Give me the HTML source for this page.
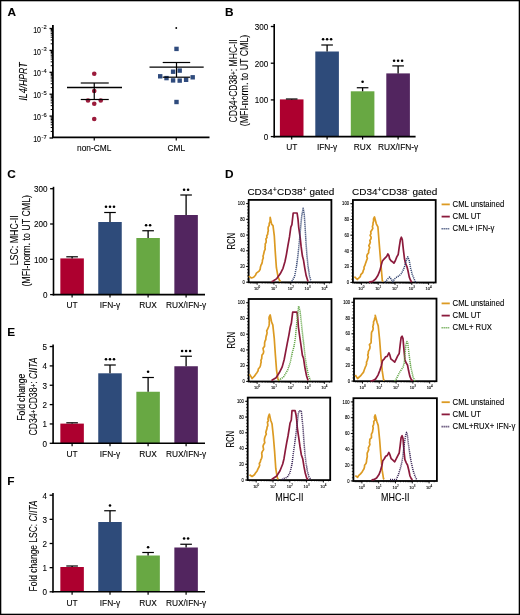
<!DOCTYPE html>
<html><head><meta charset="utf-8"><style>
html,body{margin:0;padding:0;background:#fff;}
svg{display:block;font-family:"Liberation Sans", sans-serif;will-change:transform;}
text{stroke:#000;stroke-width:0.1px;}

</style></head><body>
<svg width="520" height="615" viewBox="0 0 520 615">
<rect x="0" y="0" width="520" height="615" fill="#fff"/>
<text transform="translate(7.50 15.60)" font-size="11.8" font-weight="bold" >A</text>
<text transform="translate(225.00 15.60)" font-size="11.8" font-weight="bold" >B</text>
<text transform="translate(7.30 178.30)" font-size="11.8" font-weight="bold" >C</text>
<text transform="translate(225.00 178.30)" font-size="11.8" font-weight="bold" >D</text>
<text transform="translate(7.20 336.10)" font-size="11.8" font-weight="bold" >E</text>
<text transform="translate(7.20 484.60)" font-size="11.8" font-weight="bold" >F</text>
<line x1="52.90" y1="25.00" x2="52.90" y2="138.00" stroke="#000" stroke-width="1.8" />
<line x1="52.00" y1="137.40" x2="209.50" y2="137.40" stroke="#000" stroke-width="1.6" />
<line x1="49.50" y1="28.50" x2="52.90" y2="28.50" stroke="#000" stroke-width="1.3" />
<text transform="translate(46.70 29.00)" font-size="5.8" text-anchor="end" >-2</text>
<text transform="translate(41.00 32.60) scale(0.82 1)" font-size="8.6" text-anchor="end" >10</text>
<line x1="49.50" y1="50.40" x2="52.90" y2="50.40" stroke="#000" stroke-width="1.3" />
<text transform="translate(46.70 50.90)" font-size="5.8" text-anchor="end" >-3</text>
<text transform="translate(41.00 54.50) scale(0.82 1)" font-size="8.6" text-anchor="end" >10</text>
<line x1="49.50" y1="72.30" x2="52.90" y2="72.30" stroke="#000" stroke-width="1.3" />
<text transform="translate(46.70 72.80)" font-size="5.8" text-anchor="end" >-4</text>
<text transform="translate(41.00 76.40) scale(0.82 1)" font-size="8.6" text-anchor="end" >10</text>
<line x1="49.50" y1="94.20" x2="52.90" y2="94.20" stroke="#000" stroke-width="1.3" />
<text transform="translate(46.70 94.70)" font-size="5.8" text-anchor="end" >-5</text>
<text transform="translate(41.00 98.30) scale(0.82 1)" font-size="8.6" text-anchor="end" >10</text>
<line x1="49.50" y1="116.10" x2="52.90" y2="116.10" stroke="#000" stroke-width="1.3" />
<text transform="translate(46.70 116.60)" font-size="5.8" text-anchor="end" >-6</text>
<text transform="translate(41.00 120.20) scale(0.82 1)" font-size="8.6" text-anchor="end" >10</text>
<line x1="49.50" y1="138.00" x2="52.90" y2="138.00" stroke="#000" stroke-width="1.3" />
<text transform="translate(46.70 138.50)" font-size="5.8" text-anchor="end" >-7</text>
<text transform="translate(41.00 142.10) scale(0.82 1)" font-size="8.6" text-anchor="end" >10</text>
<line x1="50.70" y1="131.41" x2="52.90" y2="131.41" stroke="#000" stroke-width="1.0" />
<line x1="50.70" y1="127.55" x2="52.90" y2="127.55" stroke="#000" stroke-width="1.0" />
<line x1="50.70" y1="124.81" x2="52.90" y2="124.81" stroke="#000" stroke-width="1.0" />
<line x1="50.70" y1="122.69" x2="52.90" y2="122.69" stroke="#000" stroke-width="1.0" />
<line x1="50.70" y1="120.96" x2="52.90" y2="120.96" stroke="#000" stroke-width="1.0" />
<line x1="50.70" y1="119.49" x2="52.90" y2="119.49" stroke="#000" stroke-width="1.0" />
<line x1="50.70" y1="118.22" x2="52.90" y2="118.22" stroke="#000" stroke-width="1.0" />
<line x1="50.70" y1="117.10" x2="52.90" y2="117.10" stroke="#000" stroke-width="1.0" />
<line x1="50.70" y1="109.51" x2="52.90" y2="109.51" stroke="#000" stroke-width="1.0" />
<line x1="50.70" y1="105.65" x2="52.90" y2="105.65" stroke="#000" stroke-width="1.0" />
<line x1="50.70" y1="102.91" x2="52.90" y2="102.91" stroke="#000" stroke-width="1.0" />
<line x1="50.70" y1="100.79" x2="52.90" y2="100.79" stroke="#000" stroke-width="1.0" />
<line x1="50.70" y1="99.06" x2="52.90" y2="99.06" stroke="#000" stroke-width="1.0" />
<line x1="50.70" y1="97.59" x2="52.90" y2="97.59" stroke="#000" stroke-width="1.0" />
<line x1="50.70" y1="96.32" x2="52.90" y2="96.32" stroke="#000" stroke-width="1.0" />
<line x1="50.70" y1="95.20" x2="52.90" y2="95.20" stroke="#000" stroke-width="1.0" />
<line x1="50.70" y1="87.61" x2="52.90" y2="87.61" stroke="#000" stroke-width="1.0" />
<line x1="50.70" y1="83.75" x2="52.90" y2="83.75" stroke="#000" stroke-width="1.0" />
<line x1="50.70" y1="81.01" x2="52.90" y2="81.01" stroke="#000" stroke-width="1.0" />
<line x1="50.70" y1="78.89" x2="52.90" y2="78.89" stroke="#000" stroke-width="1.0" />
<line x1="50.70" y1="77.16" x2="52.90" y2="77.16" stroke="#000" stroke-width="1.0" />
<line x1="50.70" y1="75.69" x2="52.90" y2="75.69" stroke="#000" stroke-width="1.0" />
<line x1="50.70" y1="74.42" x2="52.90" y2="74.42" stroke="#000" stroke-width="1.0" />
<line x1="50.70" y1="73.30" x2="52.90" y2="73.30" stroke="#000" stroke-width="1.0" />
<line x1="50.70" y1="65.71" x2="52.90" y2="65.71" stroke="#000" stroke-width="1.0" />
<line x1="50.70" y1="61.85" x2="52.90" y2="61.85" stroke="#000" stroke-width="1.0" />
<line x1="50.70" y1="59.11" x2="52.90" y2="59.11" stroke="#000" stroke-width="1.0" />
<line x1="50.70" y1="56.99" x2="52.90" y2="56.99" stroke="#000" stroke-width="1.0" />
<line x1="50.70" y1="55.26" x2="52.90" y2="55.26" stroke="#000" stroke-width="1.0" />
<line x1="50.70" y1="53.79" x2="52.90" y2="53.79" stroke="#000" stroke-width="1.0" />
<line x1="50.70" y1="52.52" x2="52.90" y2="52.52" stroke="#000" stroke-width="1.0" />
<line x1="50.70" y1="51.40" x2="52.90" y2="51.40" stroke="#000" stroke-width="1.0" />
<line x1="50.70" y1="43.81" x2="52.90" y2="43.81" stroke="#000" stroke-width="1.0" />
<line x1="50.70" y1="39.95" x2="52.90" y2="39.95" stroke="#000" stroke-width="1.0" />
<line x1="50.70" y1="37.21" x2="52.90" y2="37.21" stroke="#000" stroke-width="1.0" />
<line x1="50.70" y1="35.09" x2="52.90" y2="35.09" stroke="#000" stroke-width="1.0" />
<line x1="50.70" y1="33.36" x2="52.90" y2="33.36" stroke="#000" stroke-width="1.0" />
<line x1="50.70" y1="31.89" x2="52.90" y2="31.89" stroke="#000" stroke-width="1.0" />
<line x1="50.70" y1="30.62" x2="52.90" y2="30.62" stroke="#000" stroke-width="1.0" />
<line x1="50.70" y1="29.50" x2="52.90" y2="29.50" stroke="#000" stroke-width="1.0" />
<line x1="94.25" y1="137.40" x2="94.25" y2="140.50" stroke="#000" stroke-width="1.2" />
<text transform="translate(94.25 150.90) scale(0.89 1)" font-size="9.4" text-anchor="middle" >non-CML</text>
<line x1="176.25" y1="137.40" x2="176.25" y2="140.50" stroke="#000" stroke-width="1.2" />
<text transform="translate(176.25 150.90) scale(0.89 1)" font-size="9.4" text-anchor="middle" >CML</text>
<text transform="translate(26.60 81.50) rotate(-90) scale(0.84 1)" font-size="10.4" text-anchor="middle" font-style="italic" >IL4/HPRT</text>
<circle cx="94.25" cy="73.75" r="2.3" fill="#9b1b3b"/>
<circle cx="94.25" cy="91" r="2.3" fill="#9b1b3b"/>
<circle cx="88" cy="100.5" r="2.3" fill="#9b1b3b"/>
<circle cx="100.75" cy="100.5" r="2.3" fill="#9b1b3b"/>
<circle cx="94.25" cy="103.75" r="2.3" fill="#9b1b3b"/>
<circle cx="94.25" cy="119" r="2.3" fill="#9b1b3b"/>
<line x1="67.00" y1="87.50" x2="122.00" y2="87.50" stroke="#000" stroke-width="1.4" />
<line x1="80.75" y1="83.00" x2="108.75" y2="83.00" stroke="#000" stroke-width="1.2" />
<line x1="80.75" y1="99.50" x2="108.75" y2="99.50" stroke="#000" stroke-width="1.2" />
<line x1="94.25" y1="83.00" x2="94.25" y2="99.50" stroke="#000" stroke-width="1.2" />
<rect x="174.30" y="46.70" width="4.40" height="4.40" fill="#2f4b7d" />
<rect x="170.90" y="69.50" width="4.40" height="4.40" fill="#2f4b7d" />
<rect x="177.50" y="68.40" width="4.40" height="4.40" fill="#2f4b7d" />
<rect x="158.00" y="74.10" width="4.40" height="4.40" fill="#2f4b7d" />
<rect x="164.30" y="75.90" width="4.40" height="4.40" fill="#2f4b7d" />
<rect x="170.90" y="78.20" width="4.40" height="4.40" fill="#2f4b7d" />
<rect x="177.50" y="78.40" width="4.40" height="4.40" fill="#2f4b7d" />
<rect x="183.90" y="77.60" width="4.40" height="4.40" fill="#2f4b7d" />
<rect x="190.50" y="75.10" width="4.40" height="4.40" fill="#2f4b7d" />
<rect x="174.30" y="99.80" width="4.40" height="4.40" fill="#2f4b7d" />
<line x1="149.50" y1="67.10" x2="203.70" y2="67.10" stroke="#000" stroke-width="1.4" />
<line x1="162.70" y1="62.50" x2="190.20" y2="62.50" stroke="#000" stroke-width="1.2" />
<line x1="162.70" y1="77.20" x2="190.20" y2="77.20" stroke="#000" stroke-width="1.2" />
<line x1="176.50" y1="62.50" x2="176.50" y2="77.20" stroke="#000" stroke-width="1.2" />
<circle cx="176.25" cy="28" r="0.95"/>
<rect x="279.90" y="99.40" width="23.60" height="37.20" fill="#ad002f" />
<line x1="291.70" y1="99.40" x2="291.70" y2="99.00" stroke="#000" stroke-width="1.3" />
<line x1="285.90" y1="99.00" x2="297.50" y2="99.00" stroke="#000" stroke-width="1.2" />
<rect x="315.30" y="51.50" width="23.60" height="85.10" fill="#2e4b7a" />
<line x1="327.10" y1="51.50" x2="327.10" y2="45.00" stroke="#000" stroke-width="1.3" />
<line x1="321.30" y1="45.00" x2="332.90" y2="45.00" stroke="#000" stroke-width="1.2" />
<rect x="350.80" y="91.30" width="23.60" height="45.30" fill="#68a843" />
<line x1="362.60" y1="91.30" x2="362.60" y2="87.75" stroke="#000" stroke-width="1.3" />
<line x1="356.80" y1="87.75" x2="368.40" y2="87.75" stroke="#000" stroke-width="1.2" />
<rect x="386.30" y="73.40" width="23.60" height="63.20" fill="#52255f" />
<line x1="398.10" y1="73.40" x2="398.10" y2="65.90" stroke="#000" stroke-width="1.3" />
<line x1="392.30" y1="65.90" x2="403.90" y2="65.90" stroke="#000" stroke-width="1.2" />
<circle cx="323.10" cy="39.30" r="1.3"/>
<circle cx="327.10" cy="39.30" r="1.3"/>
<circle cx="331.10" cy="39.30" r="1.3"/>
<circle cx="362.60" cy="81.80" r="1.3"/>
<circle cx="394.10" cy="60.80" r="1.3"/>
<circle cx="398.10" cy="60.80" r="1.3"/>
<circle cx="402.10" cy="60.80" r="1.3"/>
<line x1="274.20" y1="24.00" x2="274.20" y2="137.40" stroke="#000" stroke-width="1.6" />
<line x1="273.40" y1="136.60" x2="415.60" y2="136.60" stroke="#000" stroke-width="1.6" />
<line x1="270.80" y1="136.60" x2="274.20" y2="136.60" stroke="#000" stroke-width="1.3" />
<text transform="translate(268.20 140.00) scale(0.9 1)" font-size="9.0" text-anchor="end" >0</text>
<line x1="270.80" y1="99.90" x2="274.20" y2="99.90" stroke="#000" stroke-width="1.3" />
<text transform="translate(268.20 103.30) scale(0.9 1)" font-size="9.0" text-anchor="end" >100</text>
<line x1="270.80" y1="63.20" x2="274.20" y2="63.20" stroke="#000" stroke-width="1.3" />
<text transform="translate(268.20 66.60) scale(0.9 1)" font-size="9.0" text-anchor="end" >200</text>
<line x1="270.80" y1="26.50" x2="274.20" y2="26.50" stroke="#000" stroke-width="1.3" />
<text transform="translate(268.20 29.90) scale(0.9 1)" font-size="9.0" text-anchor="end" >300</text>
<line x1="291.70" y1="136.60" x2="291.70" y2="139.60" stroke="#000" stroke-width="1.2" />
<text transform="translate(291.70 150.35) scale(0.89 1)" font-size="9.4" text-anchor="middle" >UT</text>
<line x1="327.10" y1="136.60" x2="327.10" y2="139.60" stroke="#000" stroke-width="1.2" />
<text transform="translate(327.10 150.35) scale(0.89 1)" font-size="9.4" text-anchor="middle" >IFN-&#947;</text>
<line x1="362.60" y1="136.60" x2="362.60" y2="139.60" stroke="#000" stroke-width="1.2" />
<text transform="translate(362.60 150.35) scale(0.89 1)" font-size="9.4" text-anchor="middle" >RUX</text>
<line x1="398.10" y1="136.60" x2="398.10" y2="139.60" stroke="#000" stroke-width="1.2" />
<text transform="translate(398.10 150.35) scale(0.89 1)" font-size="9.4" text-anchor="middle" >RUX/IFN-&#947;</text>
<text transform="translate(237.00 80.90) rotate(-90) scale(0.825 1)" font-size="10.4" text-anchor="middle" >CD34<tspan font-size="7.8" dy="-1.5">+</tspan><tspan dy="1.5">CD38<tspan font-size="7.8" dy="-1.5">+</tspan><tspan dy="1.5">: MHC-II</tspan></tspan></text>
<text transform="translate(248.30 80.50) rotate(-90) scale(0.85 1)" font-size="10.4" text-anchor="middle" >(MFI-norm. to UT CML)</text>
<rect x="60.35" y="258.40" width="23.50" height="36.20" fill="#ad002f" />
<line x1="72.10" y1="258.40" x2="72.10" y2="256.80" stroke="#000" stroke-width="1.3" />
<line x1="66.30" y1="256.80" x2="77.90" y2="256.80" stroke="#000" stroke-width="1.2" />
<rect x="98.25" y="222.00" width="23.50" height="72.60" fill="#2e4b7a" />
<line x1="110.00" y1="222.00" x2="110.00" y2="212.50" stroke="#000" stroke-width="1.3" />
<line x1="104.20" y1="212.50" x2="115.80" y2="212.50" stroke="#000" stroke-width="1.2" />
<rect x="136.35" y="238.00" width="23.50" height="56.60" fill="#68a843" />
<line x1="148.10" y1="238.00" x2="148.10" y2="230.75" stroke="#000" stroke-width="1.3" />
<line x1="142.30" y1="230.75" x2="153.90" y2="230.75" stroke="#000" stroke-width="1.2" />
<rect x="174.35" y="215.00" width="23.50" height="79.60" fill="#52255f" />
<line x1="186.10" y1="215.00" x2="186.10" y2="195.00" stroke="#000" stroke-width="1.3" />
<line x1="180.30" y1="195.00" x2="191.90" y2="195.00" stroke="#000" stroke-width="1.2" />
<circle cx="106.00" cy="206.80" r="1.3"/>
<circle cx="110.00" cy="206.80" r="1.3"/>
<circle cx="114.00" cy="206.80" r="1.3"/>
<circle cx="146.10" cy="225.30" r="1.3"/>
<circle cx="150.10" cy="225.30" r="1.3"/>
<circle cx="184.10" cy="189.80" r="1.3"/>
<circle cx="188.10" cy="189.80" r="1.3"/>
<line x1="53.50" y1="186.80" x2="53.50" y2="295.40" stroke="#000" stroke-width="1.6" />
<line x1="52.70" y1="294.60" x2="205.00" y2="294.60" stroke="#000" stroke-width="1.6" />
<line x1="50.10" y1="294.60" x2="53.50" y2="294.60" stroke="#000" stroke-width="1.3" />
<text transform="translate(47.50 298.00) scale(0.9 1)" font-size="9.0" text-anchor="end" >0</text>
<line x1="50.10" y1="259.30" x2="53.50" y2="259.30" stroke="#000" stroke-width="1.3" />
<text transform="translate(47.50 262.70) scale(0.9 1)" font-size="9.0" text-anchor="end" >100</text>
<line x1="50.10" y1="224.00" x2="53.50" y2="224.00" stroke="#000" stroke-width="1.3" />
<text transform="translate(47.50 227.40) scale(0.9 1)" font-size="9.0" text-anchor="end" >200</text>
<line x1="50.10" y1="188.70" x2="53.50" y2="188.70" stroke="#000" stroke-width="1.3" />
<text transform="translate(47.50 192.10) scale(0.9 1)" font-size="9.0" text-anchor="end" >300</text>
<line x1="72.10" y1="294.60" x2="72.10" y2="297.60" stroke="#000" stroke-width="1.2" />
<text transform="translate(72.10 308.30) scale(0.89 1)" font-size="9.4" text-anchor="middle" >UT</text>
<line x1="110.00" y1="294.60" x2="110.00" y2="297.60" stroke="#000" stroke-width="1.2" />
<text transform="translate(110.00 308.30) scale(0.89 1)" font-size="9.4" text-anchor="middle" >IFN-&#947;</text>
<line x1="148.10" y1="294.60" x2="148.10" y2="297.60" stroke="#000" stroke-width="1.2" />
<text transform="translate(148.10 308.30) scale(0.89 1)" font-size="9.4" text-anchor="middle" >RUX</text>
<line x1="186.10" y1="294.60" x2="186.10" y2="297.60" stroke="#000" stroke-width="1.2" />
<text transform="translate(186.10 308.30) scale(0.89 1)" font-size="9.4" text-anchor="middle" >RUX/IFN-&#947;</text>
<text transform="translate(17.80 240.30) rotate(-90) scale(0.85 1)" font-size="10.4" text-anchor="middle" >LSC: MHC-II</text>
<text transform="translate(29.50 240.80) rotate(-90) scale(0.85 1)" font-size="10.4" text-anchor="middle" >(MFI-norm. to UT CML)</text>
<rect x="60.35" y="423.60" width="23.50" height="19.70" fill="#ad002f" />
<line x1="72.10" y1="423.60" x2="72.10" y2="422.80" stroke="#000" stroke-width="1.3" />
<line x1="66.30" y1="422.80" x2="77.90" y2="422.80" stroke="#000" stroke-width="1.2" />
<rect x="98.25" y="373.30" width="23.50" height="70.00" fill="#2e4b7a" />
<line x1="110.00" y1="373.30" x2="110.00" y2="365.00" stroke="#000" stroke-width="1.3" />
<line x1="104.20" y1="365.00" x2="115.80" y2="365.00" stroke="#000" stroke-width="1.2" />
<rect x="136.35" y="391.75" width="23.50" height="51.55" fill="#68a843" />
<line x1="148.10" y1="391.75" x2="148.10" y2="377.50" stroke="#000" stroke-width="1.3" />
<line x1="142.30" y1="377.50" x2="153.90" y2="377.50" stroke="#000" stroke-width="1.2" />
<rect x="174.35" y="366.25" width="23.50" height="77.05" fill="#52255f" />
<line x1="186.10" y1="366.25" x2="186.10" y2="356.25" stroke="#000" stroke-width="1.3" />
<line x1="180.30" y1="356.25" x2="191.90" y2="356.25" stroke="#000" stroke-width="1.2" />
<circle cx="106.00" cy="359.30" r="1.3"/>
<circle cx="110.00" cy="359.30" r="1.3"/>
<circle cx="114.00" cy="359.30" r="1.3"/>
<circle cx="148.10" cy="371.80" r="1.3"/>
<circle cx="182.10" cy="351.05" r="1.3"/>
<circle cx="186.10" cy="351.05" r="1.3"/>
<circle cx="190.10" cy="351.05" r="1.3"/>
<line x1="53.10" y1="344.60" x2="53.10" y2="444.10" stroke="#000" stroke-width="1.6" />
<line x1="52.30" y1="443.30" x2="205.00" y2="443.30" stroke="#000" stroke-width="1.6" />
<line x1="49.70" y1="443.30" x2="53.10" y2="443.30" stroke="#000" stroke-width="1.3" />
<text transform="translate(47.10 446.70) scale(0.9 1)" font-size="9.0" text-anchor="end" >0</text>
<line x1="49.70" y1="423.95" x2="53.10" y2="423.95" stroke="#000" stroke-width="1.3" />
<text transform="translate(47.10 427.35) scale(0.9 1)" font-size="9.0" text-anchor="end" >1</text>
<line x1="49.70" y1="404.60" x2="53.10" y2="404.60" stroke="#000" stroke-width="1.3" />
<text transform="translate(47.10 408.00) scale(0.9 1)" font-size="9.0" text-anchor="end" >2</text>
<line x1="49.70" y1="385.25" x2="53.10" y2="385.25" stroke="#000" stroke-width="1.3" />
<text transform="translate(47.10 388.65) scale(0.9 1)" font-size="9.0" text-anchor="end" >3</text>
<line x1="49.70" y1="365.90" x2="53.10" y2="365.90" stroke="#000" stroke-width="1.3" />
<text transform="translate(47.10 369.30) scale(0.9 1)" font-size="9.0" text-anchor="end" >4</text>
<line x1="49.70" y1="346.55" x2="53.10" y2="346.55" stroke="#000" stroke-width="1.3" />
<text transform="translate(47.10 349.95) scale(0.9 1)" font-size="9.0" text-anchor="end" >5</text>
<line x1="72.10" y1="443.30" x2="72.10" y2="446.30" stroke="#000" stroke-width="1.2" />
<text transform="translate(72.10 456.80) scale(0.89 1)" font-size="9.4" text-anchor="middle" >UT</text>
<line x1="110.00" y1="443.30" x2="110.00" y2="446.30" stroke="#000" stroke-width="1.2" />
<text transform="translate(110.00 456.80) scale(0.89 1)" font-size="9.4" text-anchor="middle" >IFN-&#947;</text>
<line x1="148.10" y1="443.30" x2="148.10" y2="446.30" stroke="#000" stroke-width="1.2" />
<text transform="translate(148.10 456.80) scale(0.89 1)" font-size="9.4" text-anchor="middle" >RUX</text>
<line x1="186.10" y1="443.30" x2="186.10" y2="446.30" stroke="#000" stroke-width="1.2" />
<text transform="translate(186.10 456.80) scale(0.89 1)" font-size="9.4" text-anchor="middle" >RUX/IFN-&#947;</text>
<text transform="translate(25.10 397.20) rotate(-90) scale(0.825 1)" font-size="10.4" text-anchor="middle" >Fold change</text>
<text transform="translate(37.00 396.50) rotate(-90) scale(0.83 1)" font-size="10.4" text-anchor="middle" >CD34<tspan font-size="7.8" dy="-1.5">+</tspan><tspan dy="1.5">CD38<tspan font-size="7.8" dy="-1.5">+</tspan><tspan dy="1.5">: <tspan font-style="italic">CIITA</tspan></tspan></tspan></text>
<rect x="60.35" y="567.00" width="23.50" height="24.80" fill="#ad002f" />
<line x1="72.10" y1="567.00" x2="72.10" y2="566.00" stroke="#000" stroke-width="1.3" />
<line x1="66.30" y1="566.00" x2="77.90" y2="566.00" stroke="#000" stroke-width="1.2" />
<rect x="98.25" y="522.00" width="23.50" height="69.80" fill="#2e4b7a" />
<line x1="110.00" y1="522.00" x2="110.00" y2="510.75" stroke="#000" stroke-width="1.3" />
<line x1="104.20" y1="510.75" x2="115.80" y2="510.75" stroke="#000" stroke-width="1.2" />
<rect x="136.35" y="555.50" width="23.50" height="36.30" fill="#68a843" />
<line x1="148.10" y1="555.50" x2="148.10" y2="552.50" stroke="#000" stroke-width="1.3" />
<line x1="142.30" y1="552.50" x2="153.90" y2="552.50" stroke="#000" stroke-width="1.2" />
<rect x="174.35" y="547.50" width="23.50" height="44.30" fill="#52255f" />
<line x1="186.10" y1="547.50" x2="186.10" y2="544.25" stroke="#000" stroke-width="1.3" />
<line x1="180.30" y1="544.25" x2="191.90" y2="544.25" stroke="#000" stroke-width="1.2" />
<circle cx="110.00" cy="505.55" r="1.3"/>
<circle cx="148.10" cy="547.30" r="1.3"/>
<circle cx="184.10" cy="538.55" r="1.3"/>
<circle cx="188.10" cy="538.55" r="1.3"/>
<line x1="53.00" y1="493.00" x2="53.00" y2="592.60" stroke="#000" stroke-width="1.6" />
<line x1="52.20" y1="591.80" x2="205.00" y2="591.80" stroke="#000" stroke-width="1.6" />
<line x1="49.60" y1="591.80" x2="53.00" y2="591.80" stroke="#000" stroke-width="1.3" />
<text transform="translate(47.00 595.20) scale(0.9 1)" font-size="9.0" text-anchor="end" >0</text>
<line x1="49.60" y1="567.65" x2="53.00" y2="567.65" stroke="#000" stroke-width="1.3" />
<text transform="translate(47.00 571.05) scale(0.9 1)" font-size="9.0" text-anchor="end" >1</text>
<line x1="49.60" y1="543.50" x2="53.00" y2="543.50" stroke="#000" stroke-width="1.3" />
<text transform="translate(47.00 546.90) scale(0.9 1)" font-size="9.0" text-anchor="end" >2</text>
<line x1="49.60" y1="519.35" x2="53.00" y2="519.35" stroke="#000" stroke-width="1.3" />
<text transform="translate(47.00 522.75) scale(0.9 1)" font-size="9.0" text-anchor="end" >3</text>
<line x1="49.60" y1="495.20" x2="53.00" y2="495.20" stroke="#000" stroke-width="1.3" />
<text transform="translate(47.00 498.60) scale(0.9 1)" font-size="9.0" text-anchor="end" >4</text>
<line x1="72.10" y1="591.80" x2="72.10" y2="594.80" stroke="#000" stroke-width="1.2" />
<text transform="translate(72.10 605.55) scale(0.89 1)" font-size="9.4" text-anchor="middle" >UT</text>
<line x1="110.00" y1="591.80" x2="110.00" y2="594.80" stroke="#000" stroke-width="1.2" />
<text transform="translate(110.00 605.55) scale(0.89 1)" font-size="9.4" text-anchor="middle" >IFN-&#947;</text>
<line x1="148.10" y1="591.80" x2="148.10" y2="594.80" stroke="#000" stroke-width="1.2" />
<text transform="translate(148.10 605.55) scale(0.89 1)" font-size="9.4" text-anchor="middle" >RUX</text>
<line x1="186.10" y1="591.80" x2="186.10" y2="594.80" stroke="#000" stroke-width="1.2" />
<text transform="translate(186.10 605.55) scale(0.89 1)" font-size="9.4" text-anchor="middle" >RUX/IFN-&#947;</text>
<text transform="translate(37.00 546.00) rotate(-90) scale(0.812 1)" font-size="10.4" text-anchor="middle" >Fold change LSC: <tspan font-style="italic">CIITA</tspan></text>
<line x1="246.05" y1="282.20" x2="248.65" y2="282.20" stroke="#000" stroke-width="0.9" />
<text transform="translate(244.75 283.80) scale(0.92 1)" font-size="4.5" text-anchor="end" >0</text>
<line x1="246.05" y1="266.48" x2="248.65" y2="266.48" stroke="#000" stroke-width="0.9" />
<text transform="translate(244.75 268.08) scale(0.92 1)" font-size="4.5" text-anchor="end" >20</text>
<line x1="246.05" y1="250.76" x2="248.65" y2="250.76" stroke="#000" stroke-width="0.9" />
<text transform="translate(244.75 252.36) scale(0.92 1)" font-size="4.5" text-anchor="end" >40</text>
<line x1="246.05" y1="235.04" x2="248.65" y2="235.04" stroke="#000" stroke-width="0.9" />
<text transform="translate(244.75 236.64) scale(0.92 1)" font-size="4.5" text-anchor="end" >60</text>
<line x1="246.05" y1="219.32" x2="248.65" y2="219.32" stroke="#000" stroke-width="0.9" />
<text transform="translate(244.75 220.92) scale(0.92 1)" font-size="4.5" text-anchor="end" >80</text>
<line x1="246.05" y1="203.60" x2="248.65" y2="203.60" stroke="#000" stroke-width="0.9" />
<text transform="translate(244.75 205.20) scale(0.92 1)" font-size="4.5" text-anchor="end" >100</text>
<line x1="247.05" y1="282.20" x2="248.65" y2="282.20" stroke="#000" stroke-width="0.7" />
<line x1="247.05" y1="279.06" x2="248.65" y2="279.06" stroke="#000" stroke-width="0.7" />
<line x1="247.05" y1="275.91" x2="248.65" y2="275.91" stroke="#000" stroke-width="0.7" />
<line x1="247.05" y1="272.77" x2="248.65" y2="272.77" stroke="#000" stroke-width="0.7" />
<line x1="247.05" y1="269.62" x2="248.65" y2="269.62" stroke="#000" stroke-width="0.7" />
<line x1="247.05" y1="266.48" x2="248.65" y2="266.48" stroke="#000" stroke-width="0.7" />
<line x1="247.05" y1="263.34" x2="248.65" y2="263.34" stroke="#000" stroke-width="0.7" />
<line x1="247.05" y1="260.19" x2="248.65" y2="260.19" stroke="#000" stroke-width="0.7" />
<line x1="247.05" y1="257.05" x2="248.65" y2="257.05" stroke="#000" stroke-width="0.7" />
<line x1="247.05" y1="253.90" x2="248.65" y2="253.90" stroke="#000" stroke-width="0.7" />
<line x1="247.05" y1="250.76" x2="248.65" y2="250.76" stroke="#000" stroke-width="0.7" />
<line x1="247.05" y1="247.62" x2="248.65" y2="247.62" stroke="#000" stroke-width="0.7" />
<line x1="247.05" y1="244.47" x2="248.65" y2="244.47" stroke="#000" stroke-width="0.7" />
<line x1="247.05" y1="241.33" x2="248.65" y2="241.33" stroke="#000" stroke-width="0.7" />
<line x1="247.05" y1="238.18" x2="248.65" y2="238.18" stroke="#000" stroke-width="0.7" />
<line x1="247.05" y1="235.04" x2="248.65" y2="235.04" stroke="#000" stroke-width="0.7" />
<line x1="247.05" y1="231.90" x2="248.65" y2="231.90" stroke="#000" stroke-width="0.7" />
<line x1="247.05" y1="228.75" x2="248.65" y2="228.75" stroke="#000" stroke-width="0.7" />
<line x1="247.05" y1="225.61" x2="248.65" y2="225.61" stroke="#000" stroke-width="0.7" />
<line x1="247.05" y1="222.46" x2="248.65" y2="222.46" stroke="#000" stroke-width="0.7" />
<line x1="247.05" y1="219.32" x2="248.65" y2="219.32" stroke="#000" stroke-width="0.7" />
<line x1="247.05" y1="216.18" x2="248.65" y2="216.18" stroke="#000" stroke-width="0.7" />
<line x1="247.05" y1="213.03" x2="248.65" y2="213.03" stroke="#000" stroke-width="0.7" />
<line x1="247.05" y1="209.89" x2="248.65" y2="209.89" stroke="#000" stroke-width="0.7" />
<line x1="247.05" y1="206.74" x2="248.65" y2="206.74" stroke="#000" stroke-width="0.7" />
<line x1="247.05" y1="203.60" x2="248.65" y2="203.60" stroke="#000" stroke-width="0.7" />
<line x1="257.15" y1="282.30" x2="257.15" y2="284.70" stroke="#000" stroke-width="0.9" />
<text transform="translate(257.15 289.90)" font-size="4.0" text-anchor="middle" >10<tspan font-size="3" dy="-1.8">0</tspan></text>
<line x1="262.21" y1="282.30" x2="262.21" y2="283.60" stroke="#000" stroke-width="0.6" />
<line x1="265.17" y1="282.30" x2="265.17" y2="283.60" stroke="#000" stroke-width="0.6" />
<line x1="267.26" y1="282.30" x2="267.26" y2="283.60" stroke="#000" stroke-width="0.6" />
<line x1="268.89" y1="282.30" x2="268.89" y2="283.60" stroke="#000" stroke-width="0.6" />
<line x1="270.22" y1="282.30" x2="270.22" y2="283.60" stroke="#000" stroke-width="0.6" />
<line x1="271.35" y1="282.30" x2="271.35" y2="283.60" stroke="#000" stroke-width="0.6" />
<line x1="272.32" y1="282.30" x2="272.32" y2="283.60" stroke="#000" stroke-width="0.6" />
<line x1="273.18" y1="282.30" x2="273.18" y2="283.60" stroke="#000" stroke-width="0.6" />
<line x1="273.95" y1="282.30" x2="273.95" y2="284.70" stroke="#000" stroke-width="0.9" />
<text transform="translate(273.95 289.90)" font-size="4.0" text-anchor="middle" >10<tspan font-size="3" dy="-1.8">1</tspan></text>
<line x1="279.01" y1="282.30" x2="279.01" y2="283.60" stroke="#000" stroke-width="0.6" />
<line x1="281.97" y1="282.30" x2="281.97" y2="283.60" stroke="#000" stroke-width="0.6" />
<line x1="284.06" y1="282.30" x2="284.06" y2="283.60" stroke="#000" stroke-width="0.6" />
<line x1="285.69" y1="282.30" x2="285.69" y2="283.60" stroke="#000" stroke-width="0.6" />
<line x1="287.02" y1="282.30" x2="287.02" y2="283.60" stroke="#000" stroke-width="0.6" />
<line x1="288.15" y1="282.30" x2="288.15" y2="283.60" stroke="#000" stroke-width="0.6" />
<line x1="289.12" y1="282.30" x2="289.12" y2="283.60" stroke="#000" stroke-width="0.6" />
<line x1="289.98" y1="282.30" x2="289.98" y2="283.60" stroke="#000" stroke-width="0.6" />
<line x1="290.75" y1="282.30" x2="290.75" y2="284.70" stroke="#000" stroke-width="0.9" />
<text transform="translate(290.75 289.90)" font-size="4.0" text-anchor="middle" >10<tspan font-size="3" dy="-1.8">2</tspan></text>
<line x1="295.81" y1="282.30" x2="295.81" y2="283.60" stroke="#000" stroke-width="0.6" />
<line x1="298.77" y1="282.30" x2="298.77" y2="283.60" stroke="#000" stroke-width="0.6" />
<line x1="300.86" y1="282.30" x2="300.86" y2="283.60" stroke="#000" stroke-width="0.6" />
<line x1="302.49" y1="282.30" x2="302.49" y2="283.60" stroke="#000" stroke-width="0.6" />
<line x1="303.82" y1="282.30" x2="303.82" y2="283.60" stroke="#000" stroke-width="0.6" />
<line x1="304.95" y1="282.30" x2="304.95" y2="283.60" stroke="#000" stroke-width="0.6" />
<line x1="305.92" y1="282.30" x2="305.92" y2="283.60" stroke="#000" stroke-width="0.6" />
<line x1="306.78" y1="282.30" x2="306.78" y2="283.60" stroke="#000" stroke-width="0.6" />
<line x1="307.55" y1="282.30" x2="307.55" y2="284.70" stroke="#000" stroke-width="0.9" />
<text transform="translate(307.55 289.90)" font-size="4.0" text-anchor="middle" >10<tspan font-size="3" dy="-1.8">3</tspan></text>
<line x1="312.61" y1="282.30" x2="312.61" y2="283.60" stroke="#000" stroke-width="0.6" />
<line x1="315.57" y1="282.30" x2="315.57" y2="283.60" stroke="#000" stroke-width="0.6" />
<line x1="317.66" y1="282.30" x2="317.66" y2="283.60" stroke="#000" stroke-width="0.6" />
<line x1="319.29" y1="282.30" x2="319.29" y2="283.60" stroke="#000" stroke-width="0.6" />
<line x1="320.62" y1="282.30" x2="320.62" y2="283.60" stroke="#000" stroke-width="0.6" />
<line x1="321.75" y1="282.30" x2="321.75" y2="283.60" stroke="#000" stroke-width="0.6" />
<line x1="322.72" y1="282.30" x2="322.72" y2="283.60" stroke="#000" stroke-width="0.6" />
<line x1="323.58" y1="282.30" x2="323.58" y2="283.60" stroke="#000" stroke-width="0.6" />
<line x1="324.35" y1="282.30" x2="324.35" y2="284.70" stroke="#000" stroke-width="0.9" />
<text transform="translate(324.35 289.90)" font-size="4.0" text-anchor="middle" >10<tspan font-size="3" dy="-1.8">4</tspan></text>
<line x1="329.41" y1="282.30" x2="329.41" y2="283.60" stroke="#000" stroke-width="0.6" />
<line x1="250.46" y1="282.30" x2="250.46" y2="283.60" stroke="#000" stroke-width="0.6" />
<line x1="252.09" y1="282.30" x2="252.09" y2="283.60" stroke="#000" stroke-width="0.6" />
<line x1="253.42" y1="282.30" x2="253.42" y2="283.60" stroke="#000" stroke-width="0.6" />
<line x1="254.55" y1="282.30" x2="254.55" y2="283.60" stroke="#000" stroke-width="0.6" />
<line x1="255.52" y1="282.30" x2="255.52" y2="283.60" stroke="#000" stroke-width="0.6" />
<line x1="256.38" y1="282.30" x2="256.38" y2="283.60" stroke="#000" stroke-width="0.6" />
<rect x="248.65" y="199.90" width="82.75" height="82.40" fill="none" stroke="#000" stroke-width="1.8"/>
<line x1="350.30" y1="282.40" x2="352.90" y2="282.40" stroke="#000" stroke-width="0.9" />
<text transform="translate(349.00 284.00) scale(0.92 1)" font-size="4.5" text-anchor="end" >0</text>
<line x1="350.30" y1="266.66" x2="352.90" y2="266.66" stroke="#000" stroke-width="0.9" />
<text transform="translate(349.00 268.26) scale(0.92 1)" font-size="4.5" text-anchor="end" >20</text>
<line x1="350.30" y1="250.92" x2="352.90" y2="250.92" stroke="#000" stroke-width="0.9" />
<text transform="translate(349.00 252.52) scale(0.92 1)" font-size="4.5" text-anchor="end" >40</text>
<line x1="350.30" y1="235.18" x2="352.90" y2="235.18" stroke="#000" stroke-width="0.9" />
<text transform="translate(349.00 236.78) scale(0.92 1)" font-size="4.5" text-anchor="end" >60</text>
<line x1="350.30" y1="219.44" x2="352.90" y2="219.44" stroke="#000" stroke-width="0.9" />
<text transform="translate(349.00 221.04) scale(0.92 1)" font-size="4.5" text-anchor="end" >80</text>
<line x1="350.30" y1="203.70" x2="352.90" y2="203.70" stroke="#000" stroke-width="0.9" />
<text transform="translate(349.00 205.30) scale(0.92 1)" font-size="4.5" text-anchor="end" >100</text>
<line x1="351.30" y1="282.40" x2="352.90" y2="282.40" stroke="#000" stroke-width="0.7" />
<line x1="351.30" y1="279.25" x2="352.90" y2="279.25" stroke="#000" stroke-width="0.7" />
<line x1="351.30" y1="276.10" x2="352.90" y2="276.10" stroke="#000" stroke-width="0.7" />
<line x1="351.30" y1="272.96" x2="352.90" y2="272.96" stroke="#000" stroke-width="0.7" />
<line x1="351.30" y1="269.81" x2="352.90" y2="269.81" stroke="#000" stroke-width="0.7" />
<line x1="351.30" y1="266.66" x2="352.90" y2="266.66" stroke="#000" stroke-width="0.7" />
<line x1="351.30" y1="263.51" x2="352.90" y2="263.51" stroke="#000" stroke-width="0.7" />
<line x1="351.30" y1="260.36" x2="352.90" y2="260.36" stroke="#000" stroke-width="0.7" />
<line x1="351.30" y1="257.22" x2="352.90" y2="257.22" stroke="#000" stroke-width="0.7" />
<line x1="351.30" y1="254.07" x2="352.90" y2="254.07" stroke="#000" stroke-width="0.7" />
<line x1="351.30" y1="250.92" x2="352.90" y2="250.92" stroke="#000" stroke-width="0.7" />
<line x1="351.30" y1="247.77" x2="352.90" y2="247.77" stroke="#000" stroke-width="0.7" />
<line x1="351.30" y1="244.62" x2="352.90" y2="244.62" stroke="#000" stroke-width="0.7" />
<line x1="351.30" y1="241.48" x2="352.90" y2="241.48" stroke="#000" stroke-width="0.7" />
<line x1="351.30" y1="238.33" x2="352.90" y2="238.33" stroke="#000" stroke-width="0.7" />
<line x1="351.30" y1="235.18" x2="352.90" y2="235.18" stroke="#000" stroke-width="0.7" />
<line x1="351.30" y1="232.03" x2="352.90" y2="232.03" stroke="#000" stroke-width="0.7" />
<line x1="351.30" y1="228.88" x2="352.90" y2="228.88" stroke="#000" stroke-width="0.7" />
<line x1="351.30" y1="225.74" x2="352.90" y2="225.74" stroke="#000" stroke-width="0.7" />
<line x1="351.30" y1="222.59" x2="352.90" y2="222.59" stroke="#000" stroke-width="0.7" />
<line x1="351.30" y1="219.44" x2="352.90" y2="219.44" stroke="#000" stroke-width="0.7" />
<line x1="351.30" y1="216.29" x2="352.90" y2="216.29" stroke="#000" stroke-width="0.7" />
<line x1="351.30" y1="213.14" x2="352.90" y2="213.14" stroke="#000" stroke-width="0.7" />
<line x1="351.30" y1="210.00" x2="352.90" y2="210.00" stroke="#000" stroke-width="0.7" />
<line x1="351.30" y1="206.85" x2="352.90" y2="206.85" stroke="#000" stroke-width="0.7" />
<line x1="351.30" y1="203.70" x2="352.90" y2="203.70" stroke="#000" stroke-width="0.7" />
<line x1="361.40" y1="282.50" x2="361.40" y2="284.90" stroke="#000" stroke-width="0.9" />
<text transform="translate(361.40 290.10)" font-size="4.0" text-anchor="middle" >10<tspan font-size="3" dy="-1.8">0</tspan></text>
<line x1="366.46" y1="282.50" x2="366.46" y2="283.80" stroke="#000" stroke-width="0.6" />
<line x1="369.42" y1="282.50" x2="369.42" y2="283.80" stroke="#000" stroke-width="0.6" />
<line x1="371.51" y1="282.50" x2="371.51" y2="283.80" stroke="#000" stroke-width="0.6" />
<line x1="373.14" y1="282.50" x2="373.14" y2="283.80" stroke="#000" stroke-width="0.6" />
<line x1="374.47" y1="282.50" x2="374.47" y2="283.80" stroke="#000" stroke-width="0.6" />
<line x1="375.60" y1="282.50" x2="375.60" y2="283.80" stroke="#000" stroke-width="0.6" />
<line x1="376.57" y1="282.50" x2="376.57" y2="283.80" stroke="#000" stroke-width="0.6" />
<line x1="377.43" y1="282.50" x2="377.43" y2="283.80" stroke="#000" stroke-width="0.6" />
<line x1="378.20" y1="282.50" x2="378.20" y2="284.90" stroke="#000" stroke-width="0.9" />
<text transform="translate(378.20 290.10)" font-size="4.0" text-anchor="middle" >10<tspan font-size="3" dy="-1.8">1</tspan></text>
<line x1="383.26" y1="282.50" x2="383.26" y2="283.80" stroke="#000" stroke-width="0.6" />
<line x1="386.22" y1="282.50" x2="386.22" y2="283.80" stroke="#000" stroke-width="0.6" />
<line x1="388.31" y1="282.50" x2="388.31" y2="283.80" stroke="#000" stroke-width="0.6" />
<line x1="389.94" y1="282.50" x2="389.94" y2="283.80" stroke="#000" stroke-width="0.6" />
<line x1="391.27" y1="282.50" x2="391.27" y2="283.80" stroke="#000" stroke-width="0.6" />
<line x1="392.40" y1="282.50" x2="392.40" y2="283.80" stroke="#000" stroke-width="0.6" />
<line x1="393.37" y1="282.50" x2="393.37" y2="283.80" stroke="#000" stroke-width="0.6" />
<line x1="394.23" y1="282.50" x2="394.23" y2="283.80" stroke="#000" stroke-width="0.6" />
<line x1="395.00" y1="282.50" x2="395.00" y2="284.90" stroke="#000" stroke-width="0.9" />
<text transform="translate(395.00 290.10)" font-size="4.0" text-anchor="middle" >10<tspan font-size="3" dy="-1.8">2</tspan></text>
<line x1="400.06" y1="282.50" x2="400.06" y2="283.80" stroke="#000" stroke-width="0.6" />
<line x1="403.02" y1="282.50" x2="403.02" y2="283.80" stroke="#000" stroke-width="0.6" />
<line x1="405.11" y1="282.50" x2="405.11" y2="283.80" stroke="#000" stroke-width="0.6" />
<line x1="406.74" y1="282.50" x2="406.74" y2="283.80" stroke="#000" stroke-width="0.6" />
<line x1="408.07" y1="282.50" x2="408.07" y2="283.80" stroke="#000" stroke-width="0.6" />
<line x1="409.20" y1="282.50" x2="409.20" y2="283.80" stroke="#000" stroke-width="0.6" />
<line x1="410.17" y1="282.50" x2="410.17" y2="283.80" stroke="#000" stroke-width="0.6" />
<line x1="411.03" y1="282.50" x2="411.03" y2="283.80" stroke="#000" stroke-width="0.6" />
<line x1="411.80" y1="282.50" x2="411.80" y2="284.90" stroke="#000" stroke-width="0.9" />
<text transform="translate(411.80 290.10)" font-size="4.0" text-anchor="middle" >10<tspan font-size="3" dy="-1.8">3</tspan></text>
<line x1="416.86" y1="282.50" x2="416.86" y2="283.80" stroke="#000" stroke-width="0.6" />
<line x1="419.82" y1="282.50" x2="419.82" y2="283.80" stroke="#000" stroke-width="0.6" />
<line x1="421.91" y1="282.50" x2="421.91" y2="283.80" stroke="#000" stroke-width="0.6" />
<line x1="423.54" y1="282.50" x2="423.54" y2="283.80" stroke="#000" stroke-width="0.6" />
<line x1="424.87" y1="282.50" x2="424.87" y2="283.80" stroke="#000" stroke-width="0.6" />
<line x1="426.00" y1="282.50" x2="426.00" y2="283.80" stroke="#000" stroke-width="0.6" />
<line x1="426.97" y1="282.50" x2="426.97" y2="283.80" stroke="#000" stroke-width="0.6" />
<line x1="427.83" y1="282.50" x2="427.83" y2="283.80" stroke="#000" stroke-width="0.6" />
<line x1="428.60" y1="282.50" x2="428.60" y2="284.90" stroke="#000" stroke-width="0.9" />
<text transform="translate(428.60 290.10)" font-size="4.0" text-anchor="middle" >10<tspan font-size="3" dy="-1.8">4</tspan></text>
<line x1="433.66" y1="282.50" x2="433.66" y2="283.80" stroke="#000" stroke-width="0.6" />
<line x1="354.71" y1="282.50" x2="354.71" y2="283.80" stroke="#000" stroke-width="0.6" />
<line x1="356.34" y1="282.50" x2="356.34" y2="283.80" stroke="#000" stroke-width="0.6" />
<line x1="357.67" y1="282.50" x2="357.67" y2="283.80" stroke="#000" stroke-width="0.6" />
<line x1="358.80" y1="282.50" x2="358.80" y2="283.80" stroke="#000" stroke-width="0.6" />
<line x1="359.77" y1="282.50" x2="359.77" y2="283.80" stroke="#000" stroke-width="0.6" />
<line x1="360.63" y1="282.50" x2="360.63" y2="283.80" stroke="#000" stroke-width="0.6" />
<rect x="352.90" y="200.00" width="82.80" height="82.50" fill="none" stroke="#000" stroke-width="1.8"/>
<line x1="246.05" y1="381.40" x2="248.65" y2="381.40" stroke="#000" stroke-width="0.9" />
<text transform="translate(244.75 383.00) scale(0.92 1)" font-size="4.5" text-anchor="end" >0</text>
<line x1="246.05" y1="365.66" x2="248.65" y2="365.66" stroke="#000" stroke-width="0.9" />
<text transform="translate(244.75 367.26) scale(0.92 1)" font-size="4.5" text-anchor="end" >20</text>
<line x1="246.05" y1="349.92" x2="248.65" y2="349.92" stroke="#000" stroke-width="0.9" />
<text transform="translate(244.75 351.52) scale(0.92 1)" font-size="4.5" text-anchor="end" >40</text>
<line x1="246.05" y1="334.18" x2="248.65" y2="334.18" stroke="#000" stroke-width="0.9" />
<text transform="translate(244.75 335.78) scale(0.92 1)" font-size="4.5" text-anchor="end" >60</text>
<line x1="246.05" y1="318.44" x2="248.65" y2="318.44" stroke="#000" stroke-width="0.9" />
<text transform="translate(244.75 320.04) scale(0.92 1)" font-size="4.5" text-anchor="end" >80</text>
<line x1="246.05" y1="302.70" x2="248.65" y2="302.70" stroke="#000" stroke-width="0.9" />
<text transform="translate(244.75 304.30) scale(0.92 1)" font-size="4.5" text-anchor="end" >100</text>
<line x1="247.05" y1="381.40" x2="248.65" y2="381.40" stroke="#000" stroke-width="0.7" />
<line x1="247.05" y1="378.25" x2="248.65" y2="378.25" stroke="#000" stroke-width="0.7" />
<line x1="247.05" y1="375.10" x2="248.65" y2="375.10" stroke="#000" stroke-width="0.7" />
<line x1="247.05" y1="371.96" x2="248.65" y2="371.96" stroke="#000" stroke-width="0.7" />
<line x1="247.05" y1="368.81" x2="248.65" y2="368.81" stroke="#000" stroke-width="0.7" />
<line x1="247.05" y1="365.66" x2="248.65" y2="365.66" stroke="#000" stroke-width="0.7" />
<line x1="247.05" y1="362.51" x2="248.65" y2="362.51" stroke="#000" stroke-width="0.7" />
<line x1="247.05" y1="359.36" x2="248.65" y2="359.36" stroke="#000" stroke-width="0.7" />
<line x1="247.05" y1="356.22" x2="248.65" y2="356.22" stroke="#000" stroke-width="0.7" />
<line x1="247.05" y1="353.07" x2="248.65" y2="353.07" stroke="#000" stroke-width="0.7" />
<line x1="247.05" y1="349.92" x2="248.65" y2="349.92" stroke="#000" stroke-width="0.7" />
<line x1="247.05" y1="346.77" x2="248.65" y2="346.77" stroke="#000" stroke-width="0.7" />
<line x1="247.05" y1="343.62" x2="248.65" y2="343.62" stroke="#000" stroke-width="0.7" />
<line x1="247.05" y1="340.48" x2="248.65" y2="340.48" stroke="#000" stroke-width="0.7" />
<line x1="247.05" y1="337.33" x2="248.65" y2="337.33" stroke="#000" stroke-width="0.7" />
<line x1="247.05" y1="334.18" x2="248.65" y2="334.18" stroke="#000" stroke-width="0.7" />
<line x1="247.05" y1="331.03" x2="248.65" y2="331.03" stroke="#000" stroke-width="0.7" />
<line x1="247.05" y1="327.88" x2="248.65" y2="327.88" stroke="#000" stroke-width="0.7" />
<line x1="247.05" y1="324.74" x2="248.65" y2="324.74" stroke="#000" stroke-width="0.7" />
<line x1="247.05" y1="321.59" x2="248.65" y2="321.59" stroke="#000" stroke-width="0.7" />
<line x1="247.05" y1="318.44" x2="248.65" y2="318.44" stroke="#000" stroke-width="0.7" />
<line x1="247.05" y1="315.29" x2="248.65" y2="315.29" stroke="#000" stroke-width="0.7" />
<line x1="247.05" y1="312.14" x2="248.65" y2="312.14" stroke="#000" stroke-width="0.7" />
<line x1="247.05" y1="309.00" x2="248.65" y2="309.00" stroke="#000" stroke-width="0.7" />
<line x1="247.05" y1="305.85" x2="248.65" y2="305.85" stroke="#000" stroke-width="0.7" />
<line x1="247.05" y1="302.70" x2="248.65" y2="302.70" stroke="#000" stroke-width="0.7" />
<line x1="257.15" y1="381.50" x2="257.15" y2="383.90" stroke="#000" stroke-width="0.9" />
<text transform="translate(257.15 389.10)" font-size="4.0" text-anchor="middle" >10<tspan font-size="3" dy="-1.8">0</tspan></text>
<line x1="262.21" y1="381.50" x2="262.21" y2="382.80" stroke="#000" stroke-width="0.6" />
<line x1="265.17" y1="381.50" x2="265.17" y2="382.80" stroke="#000" stroke-width="0.6" />
<line x1="267.26" y1="381.50" x2="267.26" y2="382.80" stroke="#000" stroke-width="0.6" />
<line x1="268.89" y1="381.50" x2="268.89" y2="382.80" stroke="#000" stroke-width="0.6" />
<line x1="270.22" y1="381.50" x2="270.22" y2="382.80" stroke="#000" stroke-width="0.6" />
<line x1="271.35" y1="381.50" x2="271.35" y2="382.80" stroke="#000" stroke-width="0.6" />
<line x1="272.32" y1="381.50" x2="272.32" y2="382.80" stroke="#000" stroke-width="0.6" />
<line x1="273.18" y1="381.50" x2="273.18" y2="382.80" stroke="#000" stroke-width="0.6" />
<line x1="273.95" y1="381.50" x2="273.95" y2="383.90" stroke="#000" stroke-width="0.9" />
<text transform="translate(273.95 389.10)" font-size="4.0" text-anchor="middle" >10<tspan font-size="3" dy="-1.8">1</tspan></text>
<line x1="279.01" y1="381.50" x2="279.01" y2="382.80" stroke="#000" stroke-width="0.6" />
<line x1="281.97" y1="381.50" x2="281.97" y2="382.80" stroke="#000" stroke-width="0.6" />
<line x1="284.06" y1="381.50" x2="284.06" y2="382.80" stroke="#000" stroke-width="0.6" />
<line x1="285.69" y1="381.50" x2="285.69" y2="382.80" stroke="#000" stroke-width="0.6" />
<line x1="287.02" y1="381.50" x2="287.02" y2="382.80" stroke="#000" stroke-width="0.6" />
<line x1="288.15" y1="381.50" x2="288.15" y2="382.80" stroke="#000" stroke-width="0.6" />
<line x1="289.12" y1="381.50" x2="289.12" y2="382.80" stroke="#000" stroke-width="0.6" />
<line x1="289.98" y1="381.50" x2="289.98" y2="382.80" stroke="#000" stroke-width="0.6" />
<line x1="290.75" y1="381.50" x2="290.75" y2="383.90" stroke="#000" stroke-width="0.9" />
<text transform="translate(290.75 389.10)" font-size="4.0" text-anchor="middle" >10<tspan font-size="3" dy="-1.8">2</tspan></text>
<line x1="295.81" y1="381.50" x2="295.81" y2="382.80" stroke="#000" stroke-width="0.6" />
<line x1="298.77" y1="381.50" x2="298.77" y2="382.80" stroke="#000" stroke-width="0.6" />
<line x1="300.86" y1="381.50" x2="300.86" y2="382.80" stroke="#000" stroke-width="0.6" />
<line x1="302.49" y1="381.50" x2="302.49" y2="382.80" stroke="#000" stroke-width="0.6" />
<line x1="303.82" y1="381.50" x2="303.82" y2="382.80" stroke="#000" stroke-width="0.6" />
<line x1="304.95" y1="381.50" x2="304.95" y2="382.80" stroke="#000" stroke-width="0.6" />
<line x1="305.92" y1="381.50" x2="305.92" y2="382.80" stroke="#000" stroke-width="0.6" />
<line x1="306.78" y1="381.50" x2="306.78" y2="382.80" stroke="#000" stroke-width="0.6" />
<line x1="307.55" y1="381.50" x2="307.55" y2="383.90" stroke="#000" stroke-width="0.9" />
<text transform="translate(307.55 389.10)" font-size="4.0" text-anchor="middle" >10<tspan font-size="3" dy="-1.8">3</tspan></text>
<line x1="312.61" y1="381.50" x2="312.61" y2="382.80" stroke="#000" stroke-width="0.6" />
<line x1="315.57" y1="381.50" x2="315.57" y2="382.80" stroke="#000" stroke-width="0.6" />
<line x1="317.66" y1="381.50" x2="317.66" y2="382.80" stroke="#000" stroke-width="0.6" />
<line x1="319.29" y1="381.50" x2="319.29" y2="382.80" stroke="#000" stroke-width="0.6" />
<line x1="320.62" y1="381.50" x2="320.62" y2="382.80" stroke="#000" stroke-width="0.6" />
<line x1="321.75" y1="381.50" x2="321.75" y2="382.80" stroke="#000" stroke-width="0.6" />
<line x1="322.72" y1="381.50" x2="322.72" y2="382.80" stroke="#000" stroke-width="0.6" />
<line x1="323.58" y1="381.50" x2="323.58" y2="382.80" stroke="#000" stroke-width="0.6" />
<line x1="324.35" y1="381.50" x2="324.35" y2="383.90" stroke="#000" stroke-width="0.9" />
<text transform="translate(324.35 389.10)" font-size="4.0" text-anchor="middle" >10<tspan font-size="3" dy="-1.8">4</tspan></text>
<line x1="329.41" y1="381.50" x2="329.41" y2="382.80" stroke="#000" stroke-width="0.6" />
<line x1="250.46" y1="381.50" x2="250.46" y2="382.80" stroke="#000" stroke-width="0.6" />
<line x1="252.09" y1="381.50" x2="252.09" y2="382.80" stroke="#000" stroke-width="0.6" />
<line x1="253.42" y1="381.50" x2="253.42" y2="382.80" stroke="#000" stroke-width="0.6" />
<line x1="254.55" y1="381.50" x2="254.55" y2="382.80" stroke="#000" stroke-width="0.6" />
<line x1="255.52" y1="381.50" x2="255.52" y2="382.80" stroke="#000" stroke-width="0.6" />
<line x1="256.38" y1="381.50" x2="256.38" y2="382.80" stroke="#000" stroke-width="0.6" />
<rect x="248.65" y="299.00" width="82.85" height="82.50" fill="none" stroke="#000" stroke-width="1.8"/>
<line x1="351.40" y1="381.10" x2="354.00" y2="381.10" stroke="#000" stroke-width="0.9" />
<text transform="translate(350.10 382.70) scale(0.92 1)" font-size="4.5" text-anchor="end" >0</text>
<line x1="351.40" y1="365.34" x2="354.00" y2="365.34" stroke="#000" stroke-width="0.9" />
<text transform="translate(350.10 366.94) scale(0.92 1)" font-size="4.5" text-anchor="end" >20</text>
<line x1="351.40" y1="349.58" x2="354.00" y2="349.58" stroke="#000" stroke-width="0.9" />
<text transform="translate(350.10 351.18) scale(0.92 1)" font-size="4.5" text-anchor="end" >40</text>
<line x1="351.40" y1="333.82" x2="354.00" y2="333.82" stroke="#000" stroke-width="0.9" />
<text transform="translate(350.10 335.42) scale(0.92 1)" font-size="4.5" text-anchor="end" >60</text>
<line x1="351.40" y1="318.06" x2="354.00" y2="318.06" stroke="#000" stroke-width="0.9" />
<text transform="translate(350.10 319.66) scale(0.92 1)" font-size="4.5" text-anchor="end" >80</text>
<line x1="351.40" y1="302.30" x2="354.00" y2="302.30" stroke="#000" stroke-width="0.9" />
<text transform="translate(350.10 303.90) scale(0.92 1)" font-size="4.5" text-anchor="end" >100</text>
<line x1="352.40" y1="381.10" x2="354.00" y2="381.10" stroke="#000" stroke-width="0.7" />
<line x1="352.40" y1="377.95" x2="354.00" y2="377.95" stroke="#000" stroke-width="0.7" />
<line x1="352.40" y1="374.80" x2="354.00" y2="374.80" stroke="#000" stroke-width="0.7" />
<line x1="352.40" y1="371.64" x2="354.00" y2="371.64" stroke="#000" stroke-width="0.7" />
<line x1="352.40" y1="368.49" x2="354.00" y2="368.49" stroke="#000" stroke-width="0.7" />
<line x1="352.40" y1="365.34" x2="354.00" y2="365.34" stroke="#000" stroke-width="0.7" />
<line x1="352.40" y1="362.19" x2="354.00" y2="362.19" stroke="#000" stroke-width="0.7" />
<line x1="352.40" y1="359.04" x2="354.00" y2="359.04" stroke="#000" stroke-width="0.7" />
<line x1="352.40" y1="355.88" x2="354.00" y2="355.88" stroke="#000" stroke-width="0.7" />
<line x1="352.40" y1="352.73" x2="354.00" y2="352.73" stroke="#000" stroke-width="0.7" />
<line x1="352.40" y1="349.58" x2="354.00" y2="349.58" stroke="#000" stroke-width="0.7" />
<line x1="352.40" y1="346.43" x2="354.00" y2="346.43" stroke="#000" stroke-width="0.7" />
<line x1="352.40" y1="343.28" x2="354.00" y2="343.28" stroke="#000" stroke-width="0.7" />
<line x1="352.40" y1="340.12" x2="354.00" y2="340.12" stroke="#000" stroke-width="0.7" />
<line x1="352.40" y1="336.97" x2="354.00" y2="336.97" stroke="#000" stroke-width="0.7" />
<line x1="352.40" y1="333.82" x2="354.00" y2="333.82" stroke="#000" stroke-width="0.7" />
<line x1="352.40" y1="330.67" x2="354.00" y2="330.67" stroke="#000" stroke-width="0.7" />
<line x1="352.40" y1="327.52" x2="354.00" y2="327.52" stroke="#000" stroke-width="0.7" />
<line x1="352.40" y1="324.36" x2="354.00" y2="324.36" stroke="#000" stroke-width="0.7" />
<line x1="352.40" y1="321.21" x2="354.00" y2="321.21" stroke="#000" stroke-width="0.7" />
<line x1="352.40" y1="318.06" x2="354.00" y2="318.06" stroke="#000" stroke-width="0.7" />
<line x1="352.40" y1="314.91" x2="354.00" y2="314.91" stroke="#000" stroke-width="0.7" />
<line x1="352.40" y1="311.76" x2="354.00" y2="311.76" stroke="#000" stroke-width="0.7" />
<line x1="352.40" y1="308.60" x2="354.00" y2="308.60" stroke="#000" stroke-width="0.7" />
<line x1="352.40" y1="305.45" x2="354.00" y2="305.45" stroke="#000" stroke-width="0.7" />
<line x1="352.40" y1="302.30" x2="354.00" y2="302.30" stroke="#000" stroke-width="0.7" />
<line x1="362.50" y1="381.20" x2="362.50" y2="383.60" stroke="#000" stroke-width="0.9" />
<text transform="translate(362.50 388.80)" font-size="4.0" text-anchor="middle" >10<tspan font-size="3" dy="-1.8">0</tspan></text>
<line x1="367.56" y1="381.20" x2="367.56" y2="382.50" stroke="#000" stroke-width="0.6" />
<line x1="370.52" y1="381.20" x2="370.52" y2="382.50" stroke="#000" stroke-width="0.6" />
<line x1="372.61" y1="381.20" x2="372.61" y2="382.50" stroke="#000" stroke-width="0.6" />
<line x1="374.24" y1="381.20" x2="374.24" y2="382.50" stroke="#000" stroke-width="0.6" />
<line x1="375.57" y1="381.20" x2="375.57" y2="382.50" stroke="#000" stroke-width="0.6" />
<line x1="376.70" y1="381.20" x2="376.70" y2="382.50" stroke="#000" stroke-width="0.6" />
<line x1="377.67" y1="381.20" x2="377.67" y2="382.50" stroke="#000" stroke-width="0.6" />
<line x1="378.53" y1="381.20" x2="378.53" y2="382.50" stroke="#000" stroke-width="0.6" />
<line x1="379.30" y1="381.20" x2="379.30" y2="383.60" stroke="#000" stroke-width="0.9" />
<text transform="translate(379.30 388.80)" font-size="4.0" text-anchor="middle" >10<tspan font-size="3" dy="-1.8">1</tspan></text>
<line x1="384.36" y1="381.20" x2="384.36" y2="382.50" stroke="#000" stroke-width="0.6" />
<line x1="387.32" y1="381.20" x2="387.32" y2="382.50" stroke="#000" stroke-width="0.6" />
<line x1="389.41" y1="381.20" x2="389.41" y2="382.50" stroke="#000" stroke-width="0.6" />
<line x1="391.04" y1="381.20" x2="391.04" y2="382.50" stroke="#000" stroke-width="0.6" />
<line x1="392.37" y1="381.20" x2="392.37" y2="382.50" stroke="#000" stroke-width="0.6" />
<line x1="393.50" y1="381.20" x2="393.50" y2="382.50" stroke="#000" stroke-width="0.6" />
<line x1="394.47" y1="381.20" x2="394.47" y2="382.50" stroke="#000" stroke-width="0.6" />
<line x1="395.33" y1="381.20" x2="395.33" y2="382.50" stroke="#000" stroke-width="0.6" />
<line x1="396.10" y1="381.20" x2="396.10" y2="383.60" stroke="#000" stroke-width="0.9" />
<text transform="translate(396.10 388.80)" font-size="4.0" text-anchor="middle" >10<tspan font-size="3" dy="-1.8">2</tspan></text>
<line x1="401.16" y1="381.20" x2="401.16" y2="382.50" stroke="#000" stroke-width="0.6" />
<line x1="404.12" y1="381.20" x2="404.12" y2="382.50" stroke="#000" stroke-width="0.6" />
<line x1="406.21" y1="381.20" x2="406.21" y2="382.50" stroke="#000" stroke-width="0.6" />
<line x1="407.84" y1="381.20" x2="407.84" y2="382.50" stroke="#000" stroke-width="0.6" />
<line x1="409.17" y1="381.20" x2="409.17" y2="382.50" stroke="#000" stroke-width="0.6" />
<line x1="410.30" y1="381.20" x2="410.30" y2="382.50" stroke="#000" stroke-width="0.6" />
<line x1="411.27" y1="381.20" x2="411.27" y2="382.50" stroke="#000" stroke-width="0.6" />
<line x1="412.13" y1="381.20" x2="412.13" y2="382.50" stroke="#000" stroke-width="0.6" />
<line x1="412.90" y1="381.20" x2="412.90" y2="383.60" stroke="#000" stroke-width="0.9" />
<text transform="translate(412.90 388.80)" font-size="4.0" text-anchor="middle" >10<tspan font-size="3" dy="-1.8">3</tspan></text>
<line x1="417.96" y1="381.20" x2="417.96" y2="382.50" stroke="#000" stroke-width="0.6" />
<line x1="420.92" y1="381.20" x2="420.92" y2="382.50" stroke="#000" stroke-width="0.6" />
<line x1="423.01" y1="381.20" x2="423.01" y2="382.50" stroke="#000" stroke-width="0.6" />
<line x1="424.64" y1="381.20" x2="424.64" y2="382.50" stroke="#000" stroke-width="0.6" />
<line x1="425.97" y1="381.20" x2="425.97" y2="382.50" stroke="#000" stroke-width="0.6" />
<line x1="427.10" y1="381.20" x2="427.10" y2="382.50" stroke="#000" stroke-width="0.6" />
<line x1="428.07" y1="381.20" x2="428.07" y2="382.50" stroke="#000" stroke-width="0.6" />
<line x1="428.93" y1="381.20" x2="428.93" y2="382.50" stroke="#000" stroke-width="0.6" />
<line x1="429.70" y1="381.20" x2="429.70" y2="383.60" stroke="#000" stroke-width="0.9" />
<text transform="translate(429.70 388.80)" font-size="4.0" text-anchor="middle" >10<tspan font-size="3" dy="-1.8">4</tspan></text>
<line x1="434.76" y1="381.20" x2="434.76" y2="382.50" stroke="#000" stroke-width="0.6" />
<line x1="355.81" y1="381.20" x2="355.81" y2="382.50" stroke="#000" stroke-width="0.6" />
<line x1="357.44" y1="381.20" x2="357.44" y2="382.50" stroke="#000" stroke-width="0.6" />
<line x1="358.77" y1="381.20" x2="358.77" y2="382.50" stroke="#000" stroke-width="0.6" />
<line x1="359.90" y1="381.20" x2="359.90" y2="382.50" stroke="#000" stroke-width="0.6" />
<line x1="360.87" y1="381.20" x2="360.87" y2="382.50" stroke="#000" stroke-width="0.6" />
<line x1="361.73" y1="381.20" x2="361.73" y2="382.50" stroke="#000" stroke-width="0.6" />
<rect x="354.00" y="298.60" width="82.50" height="82.60" fill="none" stroke="#000" stroke-width="1.8"/>
<line x1="245.10" y1="480.00" x2="247.70" y2="480.00" stroke="#000" stroke-width="0.9" />
<text transform="translate(243.80 481.60) scale(0.92 1)" font-size="4.5" text-anchor="end" >0</text>
<line x1="245.10" y1="464.26" x2="247.70" y2="464.26" stroke="#000" stroke-width="0.9" />
<text transform="translate(243.80 465.86) scale(0.92 1)" font-size="4.5" text-anchor="end" >20</text>
<line x1="245.10" y1="448.52" x2="247.70" y2="448.52" stroke="#000" stroke-width="0.9" />
<text transform="translate(243.80 450.12) scale(0.92 1)" font-size="4.5" text-anchor="end" >40</text>
<line x1="245.10" y1="432.78" x2="247.70" y2="432.78" stroke="#000" stroke-width="0.9" />
<text transform="translate(243.80 434.38) scale(0.92 1)" font-size="4.5" text-anchor="end" >60</text>
<line x1="245.10" y1="417.04" x2="247.70" y2="417.04" stroke="#000" stroke-width="0.9" />
<text transform="translate(243.80 418.64) scale(0.92 1)" font-size="4.5" text-anchor="end" >80</text>
<line x1="245.10" y1="401.30" x2="247.70" y2="401.30" stroke="#000" stroke-width="0.9" />
<text transform="translate(243.80 402.90) scale(0.92 1)" font-size="4.5" text-anchor="end" >100</text>
<line x1="246.10" y1="480.00" x2="247.70" y2="480.00" stroke="#000" stroke-width="0.7" />
<line x1="246.10" y1="476.85" x2="247.70" y2="476.85" stroke="#000" stroke-width="0.7" />
<line x1="246.10" y1="473.70" x2="247.70" y2="473.70" stroke="#000" stroke-width="0.7" />
<line x1="246.10" y1="470.56" x2="247.70" y2="470.56" stroke="#000" stroke-width="0.7" />
<line x1="246.10" y1="467.41" x2="247.70" y2="467.41" stroke="#000" stroke-width="0.7" />
<line x1="246.10" y1="464.26" x2="247.70" y2="464.26" stroke="#000" stroke-width="0.7" />
<line x1="246.10" y1="461.11" x2="247.70" y2="461.11" stroke="#000" stroke-width="0.7" />
<line x1="246.10" y1="457.96" x2="247.70" y2="457.96" stroke="#000" stroke-width="0.7" />
<line x1="246.10" y1="454.82" x2="247.70" y2="454.82" stroke="#000" stroke-width="0.7" />
<line x1="246.10" y1="451.67" x2="247.70" y2="451.67" stroke="#000" stroke-width="0.7" />
<line x1="246.10" y1="448.52" x2="247.70" y2="448.52" stroke="#000" stroke-width="0.7" />
<line x1="246.10" y1="445.37" x2="247.70" y2="445.37" stroke="#000" stroke-width="0.7" />
<line x1="246.10" y1="442.22" x2="247.70" y2="442.22" stroke="#000" stroke-width="0.7" />
<line x1="246.10" y1="439.08" x2="247.70" y2="439.08" stroke="#000" stroke-width="0.7" />
<line x1="246.10" y1="435.93" x2="247.70" y2="435.93" stroke="#000" stroke-width="0.7" />
<line x1="246.10" y1="432.78" x2="247.70" y2="432.78" stroke="#000" stroke-width="0.7" />
<line x1="246.10" y1="429.63" x2="247.70" y2="429.63" stroke="#000" stroke-width="0.7" />
<line x1="246.10" y1="426.48" x2="247.70" y2="426.48" stroke="#000" stroke-width="0.7" />
<line x1="246.10" y1="423.34" x2="247.70" y2="423.34" stroke="#000" stroke-width="0.7" />
<line x1="246.10" y1="420.19" x2="247.70" y2="420.19" stroke="#000" stroke-width="0.7" />
<line x1="246.10" y1="417.04" x2="247.70" y2="417.04" stroke="#000" stroke-width="0.7" />
<line x1="246.10" y1="413.89" x2="247.70" y2="413.89" stroke="#000" stroke-width="0.7" />
<line x1="246.10" y1="410.74" x2="247.70" y2="410.74" stroke="#000" stroke-width="0.7" />
<line x1="246.10" y1="407.60" x2="247.70" y2="407.60" stroke="#000" stroke-width="0.7" />
<line x1="246.10" y1="404.45" x2="247.70" y2="404.45" stroke="#000" stroke-width="0.7" />
<line x1="246.10" y1="401.30" x2="247.70" y2="401.30" stroke="#000" stroke-width="0.7" />
<line x1="256.20" y1="480.10" x2="256.20" y2="482.50" stroke="#000" stroke-width="0.9" />
<text transform="translate(256.20 487.70)" font-size="4.0" text-anchor="middle" >10<tspan font-size="3" dy="-1.8">0</tspan></text>
<line x1="261.26" y1="480.10" x2="261.26" y2="481.40" stroke="#000" stroke-width="0.6" />
<line x1="264.22" y1="480.10" x2="264.22" y2="481.40" stroke="#000" stroke-width="0.6" />
<line x1="266.31" y1="480.10" x2="266.31" y2="481.40" stroke="#000" stroke-width="0.6" />
<line x1="267.94" y1="480.10" x2="267.94" y2="481.40" stroke="#000" stroke-width="0.6" />
<line x1="269.27" y1="480.10" x2="269.27" y2="481.40" stroke="#000" stroke-width="0.6" />
<line x1="270.40" y1="480.10" x2="270.40" y2="481.40" stroke="#000" stroke-width="0.6" />
<line x1="271.37" y1="480.10" x2="271.37" y2="481.40" stroke="#000" stroke-width="0.6" />
<line x1="272.23" y1="480.10" x2="272.23" y2="481.40" stroke="#000" stroke-width="0.6" />
<line x1="273.00" y1="480.10" x2="273.00" y2="482.50" stroke="#000" stroke-width="0.9" />
<text transform="translate(273.00 487.70)" font-size="4.0" text-anchor="middle" >10<tspan font-size="3" dy="-1.8">1</tspan></text>
<line x1="278.06" y1="480.10" x2="278.06" y2="481.40" stroke="#000" stroke-width="0.6" />
<line x1="281.02" y1="480.10" x2="281.02" y2="481.40" stroke="#000" stroke-width="0.6" />
<line x1="283.11" y1="480.10" x2="283.11" y2="481.40" stroke="#000" stroke-width="0.6" />
<line x1="284.74" y1="480.10" x2="284.74" y2="481.40" stroke="#000" stroke-width="0.6" />
<line x1="286.07" y1="480.10" x2="286.07" y2="481.40" stroke="#000" stroke-width="0.6" />
<line x1="287.20" y1="480.10" x2="287.20" y2="481.40" stroke="#000" stroke-width="0.6" />
<line x1="288.17" y1="480.10" x2="288.17" y2="481.40" stroke="#000" stroke-width="0.6" />
<line x1="289.03" y1="480.10" x2="289.03" y2="481.40" stroke="#000" stroke-width="0.6" />
<line x1="289.80" y1="480.10" x2="289.80" y2="482.50" stroke="#000" stroke-width="0.9" />
<text transform="translate(289.80 487.70)" font-size="4.0" text-anchor="middle" >10<tspan font-size="3" dy="-1.8">2</tspan></text>
<line x1="294.86" y1="480.10" x2="294.86" y2="481.40" stroke="#000" stroke-width="0.6" />
<line x1="297.82" y1="480.10" x2="297.82" y2="481.40" stroke="#000" stroke-width="0.6" />
<line x1="299.91" y1="480.10" x2="299.91" y2="481.40" stroke="#000" stroke-width="0.6" />
<line x1="301.54" y1="480.10" x2="301.54" y2="481.40" stroke="#000" stroke-width="0.6" />
<line x1="302.87" y1="480.10" x2="302.87" y2="481.40" stroke="#000" stroke-width="0.6" />
<line x1="304.00" y1="480.10" x2="304.00" y2="481.40" stroke="#000" stroke-width="0.6" />
<line x1="304.97" y1="480.10" x2="304.97" y2="481.40" stroke="#000" stroke-width="0.6" />
<line x1="305.83" y1="480.10" x2="305.83" y2="481.40" stroke="#000" stroke-width="0.6" />
<line x1="306.60" y1="480.10" x2="306.60" y2="482.50" stroke="#000" stroke-width="0.9" />
<text transform="translate(306.60 487.70)" font-size="4.0" text-anchor="middle" >10<tspan font-size="3" dy="-1.8">3</tspan></text>
<line x1="311.66" y1="480.10" x2="311.66" y2="481.40" stroke="#000" stroke-width="0.6" />
<line x1="314.62" y1="480.10" x2="314.62" y2="481.40" stroke="#000" stroke-width="0.6" />
<line x1="316.71" y1="480.10" x2="316.71" y2="481.40" stroke="#000" stroke-width="0.6" />
<line x1="318.34" y1="480.10" x2="318.34" y2="481.40" stroke="#000" stroke-width="0.6" />
<line x1="319.67" y1="480.10" x2="319.67" y2="481.40" stroke="#000" stroke-width="0.6" />
<line x1="320.80" y1="480.10" x2="320.80" y2="481.40" stroke="#000" stroke-width="0.6" />
<line x1="321.77" y1="480.10" x2="321.77" y2="481.40" stroke="#000" stroke-width="0.6" />
<line x1="322.63" y1="480.10" x2="322.63" y2="481.40" stroke="#000" stroke-width="0.6" />
<line x1="323.40" y1="480.10" x2="323.40" y2="482.50" stroke="#000" stroke-width="0.9" />
<text transform="translate(323.40 487.70)" font-size="4.0" text-anchor="middle" >10<tspan font-size="3" dy="-1.8">4</tspan></text>
<line x1="328.46" y1="480.10" x2="328.46" y2="481.40" stroke="#000" stroke-width="0.6" />
<line x1="249.51" y1="480.10" x2="249.51" y2="481.40" stroke="#000" stroke-width="0.6" />
<line x1="251.14" y1="480.10" x2="251.14" y2="481.40" stroke="#000" stroke-width="0.6" />
<line x1="252.47" y1="480.10" x2="252.47" y2="481.40" stroke="#000" stroke-width="0.6" />
<line x1="253.60" y1="480.10" x2="253.60" y2="481.40" stroke="#000" stroke-width="0.6" />
<line x1="254.57" y1="480.10" x2="254.57" y2="481.40" stroke="#000" stroke-width="0.6" />
<line x1="255.43" y1="480.10" x2="255.43" y2="481.40" stroke="#000" stroke-width="0.6" />
<rect x="247.70" y="397.60" width="82.50" height="82.50" fill="none" stroke="#000" stroke-width="1.8"/>
<line x1="350.80" y1="480.90" x2="353.40" y2="480.90" stroke="#000" stroke-width="0.9" />
<text transform="translate(349.50 482.50) scale(0.92 1)" font-size="4.5" text-anchor="end" >0</text>
<line x1="350.80" y1="465.10" x2="353.40" y2="465.10" stroke="#000" stroke-width="0.9" />
<text transform="translate(349.50 466.70) scale(0.92 1)" font-size="4.5" text-anchor="end" >20</text>
<line x1="350.80" y1="449.30" x2="353.40" y2="449.30" stroke="#000" stroke-width="0.9" />
<text transform="translate(349.50 450.90) scale(0.92 1)" font-size="4.5" text-anchor="end" >40</text>
<line x1="350.80" y1="433.50" x2="353.40" y2="433.50" stroke="#000" stroke-width="0.9" />
<text transform="translate(349.50 435.10) scale(0.92 1)" font-size="4.5" text-anchor="end" >60</text>
<line x1="350.80" y1="417.70" x2="353.40" y2="417.70" stroke="#000" stroke-width="0.9" />
<text transform="translate(349.50 419.30) scale(0.92 1)" font-size="4.5" text-anchor="end" >80</text>
<line x1="350.80" y1="401.90" x2="353.40" y2="401.90" stroke="#000" stroke-width="0.9" />
<text transform="translate(349.50 403.50) scale(0.92 1)" font-size="4.5" text-anchor="end" >100</text>
<line x1="351.80" y1="480.90" x2="353.40" y2="480.90" stroke="#000" stroke-width="0.7" />
<line x1="351.80" y1="477.74" x2="353.40" y2="477.74" stroke="#000" stroke-width="0.7" />
<line x1="351.80" y1="474.58" x2="353.40" y2="474.58" stroke="#000" stroke-width="0.7" />
<line x1="351.80" y1="471.42" x2="353.40" y2="471.42" stroke="#000" stroke-width="0.7" />
<line x1="351.80" y1="468.26" x2="353.40" y2="468.26" stroke="#000" stroke-width="0.7" />
<line x1="351.80" y1="465.10" x2="353.40" y2="465.10" stroke="#000" stroke-width="0.7" />
<line x1="351.80" y1="461.94" x2="353.40" y2="461.94" stroke="#000" stroke-width="0.7" />
<line x1="351.80" y1="458.78" x2="353.40" y2="458.78" stroke="#000" stroke-width="0.7" />
<line x1="351.80" y1="455.62" x2="353.40" y2="455.62" stroke="#000" stroke-width="0.7" />
<line x1="351.80" y1="452.46" x2="353.40" y2="452.46" stroke="#000" stroke-width="0.7" />
<line x1="351.80" y1="449.30" x2="353.40" y2="449.30" stroke="#000" stroke-width="0.7" />
<line x1="351.80" y1="446.14" x2="353.40" y2="446.14" stroke="#000" stroke-width="0.7" />
<line x1="351.80" y1="442.98" x2="353.40" y2="442.98" stroke="#000" stroke-width="0.7" />
<line x1="351.80" y1="439.82" x2="353.40" y2="439.82" stroke="#000" stroke-width="0.7" />
<line x1="351.80" y1="436.66" x2="353.40" y2="436.66" stroke="#000" stroke-width="0.7" />
<line x1="351.80" y1="433.50" x2="353.40" y2="433.50" stroke="#000" stroke-width="0.7" />
<line x1="351.80" y1="430.34" x2="353.40" y2="430.34" stroke="#000" stroke-width="0.7" />
<line x1="351.80" y1="427.18" x2="353.40" y2="427.18" stroke="#000" stroke-width="0.7" />
<line x1="351.80" y1="424.02" x2="353.40" y2="424.02" stroke="#000" stroke-width="0.7" />
<line x1="351.80" y1="420.86" x2="353.40" y2="420.86" stroke="#000" stroke-width="0.7" />
<line x1="351.80" y1="417.70" x2="353.40" y2="417.70" stroke="#000" stroke-width="0.7" />
<line x1="351.80" y1="414.54" x2="353.40" y2="414.54" stroke="#000" stroke-width="0.7" />
<line x1="351.80" y1="411.38" x2="353.40" y2="411.38" stroke="#000" stroke-width="0.7" />
<line x1="351.80" y1="408.22" x2="353.40" y2="408.22" stroke="#000" stroke-width="0.7" />
<line x1="351.80" y1="405.06" x2="353.40" y2="405.06" stroke="#000" stroke-width="0.7" />
<line x1="351.80" y1="401.90" x2="353.40" y2="401.90" stroke="#000" stroke-width="0.7" />
<line x1="361.90" y1="481.00" x2="361.90" y2="483.40" stroke="#000" stroke-width="0.9" />
<text transform="translate(361.90 488.60)" font-size="4.0" text-anchor="middle" >10<tspan font-size="3" dy="-1.8">0</tspan></text>
<line x1="366.96" y1="481.00" x2="366.96" y2="482.30" stroke="#000" stroke-width="0.6" />
<line x1="369.92" y1="481.00" x2="369.92" y2="482.30" stroke="#000" stroke-width="0.6" />
<line x1="372.01" y1="481.00" x2="372.01" y2="482.30" stroke="#000" stroke-width="0.6" />
<line x1="373.64" y1="481.00" x2="373.64" y2="482.30" stroke="#000" stroke-width="0.6" />
<line x1="374.97" y1="481.00" x2="374.97" y2="482.30" stroke="#000" stroke-width="0.6" />
<line x1="376.10" y1="481.00" x2="376.10" y2="482.30" stroke="#000" stroke-width="0.6" />
<line x1="377.07" y1="481.00" x2="377.07" y2="482.30" stroke="#000" stroke-width="0.6" />
<line x1="377.93" y1="481.00" x2="377.93" y2="482.30" stroke="#000" stroke-width="0.6" />
<line x1="378.70" y1="481.00" x2="378.70" y2="483.40" stroke="#000" stroke-width="0.9" />
<text transform="translate(378.70 488.60)" font-size="4.0" text-anchor="middle" >10<tspan font-size="3" dy="-1.8">1</tspan></text>
<line x1="383.76" y1="481.00" x2="383.76" y2="482.30" stroke="#000" stroke-width="0.6" />
<line x1="386.72" y1="481.00" x2="386.72" y2="482.30" stroke="#000" stroke-width="0.6" />
<line x1="388.81" y1="481.00" x2="388.81" y2="482.30" stroke="#000" stroke-width="0.6" />
<line x1="390.44" y1="481.00" x2="390.44" y2="482.30" stroke="#000" stroke-width="0.6" />
<line x1="391.77" y1="481.00" x2="391.77" y2="482.30" stroke="#000" stroke-width="0.6" />
<line x1="392.90" y1="481.00" x2="392.90" y2="482.30" stroke="#000" stroke-width="0.6" />
<line x1="393.87" y1="481.00" x2="393.87" y2="482.30" stroke="#000" stroke-width="0.6" />
<line x1="394.73" y1="481.00" x2="394.73" y2="482.30" stroke="#000" stroke-width="0.6" />
<line x1="395.50" y1="481.00" x2="395.50" y2="483.40" stroke="#000" stroke-width="0.9" />
<text transform="translate(395.50 488.60)" font-size="4.0" text-anchor="middle" >10<tspan font-size="3" dy="-1.8">2</tspan></text>
<line x1="400.56" y1="481.00" x2="400.56" y2="482.30" stroke="#000" stroke-width="0.6" />
<line x1="403.52" y1="481.00" x2="403.52" y2="482.30" stroke="#000" stroke-width="0.6" />
<line x1="405.61" y1="481.00" x2="405.61" y2="482.30" stroke="#000" stroke-width="0.6" />
<line x1="407.24" y1="481.00" x2="407.24" y2="482.30" stroke="#000" stroke-width="0.6" />
<line x1="408.57" y1="481.00" x2="408.57" y2="482.30" stroke="#000" stroke-width="0.6" />
<line x1="409.70" y1="481.00" x2="409.70" y2="482.30" stroke="#000" stroke-width="0.6" />
<line x1="410.67" y1="481.00" x2="410.67" y2="482.30" stroke="#000" stroke-width="0.6" />
<line x1="411.53" y1="481.00" x2="411.53" y2="482.30" stroke="#000" stroke-width="0.6" />
<line x1="412.30" y1="481.00" x2="412.30" y2="483.40" stroke="#000" stroke-width="0.9" />
<text transform="translate(412.30 488.60)" font-size="4.0" text-anchor="middle" >10<tspan font-size="3" dy="-1.8">3</tspan></text>
<line x1="417.36" y1="481.00" x2="417.36" y2="482.30" stroke="#000" stroke-width="0.6" />
<line x1="420.32" y1="481.00" x2="420.32" y2="482.30" stroke="#000" stroke-width="0.6" />
<line x1="422.41" y1="481.00" x2="422.41" y2="482.30" stroke="#000" stroke-width="0.6" />
<line x1="424.04" y1="481.00" x2="424.04" y2="482.30" stroke="#000" stroke-width="0.6" />
<line x1="425.37" y1="481.00" x2="425.37" y2="482.30" stroke="#000" stroke-width="0.6" />
<line x1="426.50" y1="481.00" x2="426.50" y2="482.30" stroke="#000" stroke-width="0.6" />
<line x1="427.47" y1="481.00" x2="427.47" y2="482.30" stroke="#000" stroke-width="0.6" />
<line x1="428.33" y1="481.00" x2="428.33" y2="482.30" stroke="#000" stroke-width="0.6" />
<line x1="429.10" y1="481.00" x2="429.10" y2="483.40" stroke="#000" stroke-width="0.9" />
<text transform="translate(429.10 488.60)" font-size="4.0" text-anchor="middle" >10<tspan font-size="3" dy="-1.8">4</tspan></text>
<line x1="434.16" y1="481.00" x2="434.16" y2="482.30" stroke="#000" stroke-width="0.6" />
<line x1="355.21" y1="481.00" x2="355.21" y2="482.30" stroke="#000" stroke-width="0.6" />
<line x1="356.84" y1="481.00" x2="356.84" y2="482.30" stroke="#000" stroke-width="0.6" />
<line x1="358.17" y1="481.00" x2="358.17" y2="482.30" stroke="#000" stroke-width="0.6" />
<line x1="359.30" y1="481.00" x2="359.30" y2="482.30" stroke="#000" stroke-width="0.6" />
<line x1="360.27" y1="481.00" x2="360.27" y2="482.30" stroke="#000" stroke-width="0.6" />
<line x1="361.13" y1="481.00" x2="361.13" y2="482.30" stroke="#000" stroke-width="0.6" />
<rect x="353.40" y="398.20" width="83.50" height="82.80" fill="none" stroke="#000" stroke-width="1.8"/>
<text transform="translate(247.40 195.00) scale(1.12 1)" font-size="8.9" >CD34<tspan font-size="6.4" dy="-3.2">+</tspan><tspan dy="3.2">CD38<tspan font-size="6.4" dy="-3.2">+</tspan><tspan dy="3.2"> gated</tspan></tspan></text>
<text transform="translate(352.10 195.00) scale(1.12 1)" font-size="8.9" >CD34<tspan font-size="6.4" dy="-3.2">+</tspan><tspan dy="3.2">CD38<tspan font-size="6.4" dy="-3.2">-</tspan><tspan dy="3.2"> gated</tspan></tspan></text>
<text transform="translate(235.00 241.30) rotate(-90)" font-size="11.5" text-anchor="middle" textLength="16.6" lengthAdjust="spacingAndGlyphs" stroke="#000" stroke-width="0.2">RCN</text>
<text transform="translate(234.70 340.15) rotate(-90)" font-size="11.5" text-anchor="middle" textLength="16.6" lengthAdjust="spacingAndGlyphs" stroke="#000" stroke-width="0.2">RCN</text>
<text transform="translate(233.90 439.20) rotate(-90)" font-size="11.5" text-anchor="middle" textLength="16.6" lengthAdjust="spacingAndGlyphs" stroke="#000" stroke-width="0.2">RCN</text>
<text transform="translate(289.40 501.40)" font-size="11.4" text-anchor="middle" textLength="28.4" lengthAdjust="spacingAndGlyphs" stroke="#000" stroke-width="0.25">MHC-II</text>
<text transform="translate(395.30 501.40)" font-size="11.4" text-anchor="middle" textLength="28.4" lengthAdjust="spacingAndGlyphs" stroke="#000" stroke-width="0.25">MHC-II</text>
<line x1="441.60" y1="204.40" x2="449.80" y2="204.40" stroke="#dc9a22" stroke-width="1.8" />
<text transform="translate(452.60 207.00) scale(0.86 1)" font-size="9.0" >CML unstained</text>
<line x1="441.60" y1="216.60" x2="449.80" y2="216.60" stroke="#8b1a3c" stroke-width="1.8" />
<text transform="translate(452.60 219.20) scale(0.86 1)" font-size="9.0" >CML UT</text>
<line x1="441.60" y1="228.80" x2="449.80" y2="228.80" stroke="#2b3d6b" stroke-width="1.6" stroke-dasharray="1.1 0.9"/>
<text transform="translate(452.60 231.40) scale(0.86 1)" font-size="9.0" >CML+ IFN-&#947;</text>
<line x1="441.60" y1="303.40" x2="449.80" y2="303.40" stroke="#dc9a22" stroke-width="1.8" />
<text transform="translate(452.60 306.00) scale(0.86 1)" font-size="9.0" >CML unstained</text>
<line x1="441.60" y1="315.60" x2="449.80" y2="315.60" stroke="#8b1a3c" stroke-width="1.8" />
<text transform="translate(452.60 318.20) scale(0.86 1)" font-size="9.0" >CML UT</text>
<line x1="441.60" y1="327.80" x2="449.80" y2="327.80" stroke="#5aa03c" stroke-width="1.6" stroke-dasharray="1.1 0.9"/>
<text transform="translate(452.60 330.40) scale(0.86 1)" font-size="9.0" >CML+ RUX</text>
<line x1="441.60" y1="402.20" x2="449.80" y2="402.20" stroke="#dc9a22" stroke-width="1.8" />
<text transform="translate(452.60 404.80) scale(0.86 1)" font-size="9.0" >CML unstained</text>
<line x1="441.60" y1="414.40" x2="449.80" y2="414.40" stroke="#8b1a3c" stroke-width="1.8" />
<text transform="translate(452.60 417.00) scale(0.86 1)" font-size="9.0" >CML UT</text>
<line x1="441.60" y1="426.60" x2="449.80" y2="426.60" stroke="#3a2455" stroke-width="1.6" stroke-dasharray="1.1 0.9"/>
<text transform="translate(452.60 429.20) scale(0.86 1)" font-size="9.0" >CML+RUX+ IFN-&#947;</text>
<polyline points="249.0,276.0 249.5,276.7 251.5,278.0 253.6,277.3 255.5,275.2 256.4,273.2 259.1,271.1 260.2,269.2 260.4,267.3 260.9,265.4 261.9,263.5 262.3,261.7 262.5,259.8 263.3,258.0 263.0,256.2 263.6,254.3 264.0,252.5 264.4,250.8 265.2,249.1 265.0,247.3 265.3,245.6 265.2,244.0 266.1,242.4 266.2,240.8 265.9,239.1 267.0,237.5 266.7,235.9 267.7,234.2 267.8,232.4 268.3,230.7 268.1,229.0 268.2,227.2 269.2,225.3 269.2,223.5 270.1,221.4 270.1,219.4 270.2,217.3 271.6,224.2 273.0,225.6 274.3,235.9 275.3,252.5 276.4,267.7 278.0,276.7 279.4,280.1 280.5,281.5" fill="none" stroke="#dc9a22" stroke-width="1.7" stroke-linejoin="round"/>
<polyline points="271.5,281.6 272.7,281.3 276.8,278.6 280.2,273.8 283.0,268.3 285.0,261.5 286.4,254.6 288.0,245.1 289.5,236.9 290.8,227.3 291.9,224.6 293.2,213.0 297.1,213.0 298.0,219.1 298.7,227.3 300.1,236.9 301.1,246.4 302.4,256.0 303.5,260.1 304.8,268.3 306.2,275.8 308.0,281.6" fill="none" stroke="#8b1a3c" stroke-width="1.7" stroke-linejoin="round"/>
<polyline points="291.9,281.4 294.6,276.5 296.6,265.6 298.0,254.6 299.4,241.0 300.7,227.3 301.7,216.4 303.1,208.2 304.2,213.7 305.1,227.3 305.9,241.0 306.9,254.6 308.0,265.6 309.3,275.1 311.0,281.4" fill="none" stroke="#2b3d6b" stroke-width="1.5" stroke-dasharray="1.1 0.9" stroke-linejoin="round"/>
<polyline points="354.4,276.6 357.3,279.5 360.3,276.6 360.8,274.6 362.7,272.7 363.2,270.7 364.1,268.9 364.0,267.2 364.9,265.4 365.4,263.7 366.1,261.9 366.7,260.1 367.4,258.3 366.8,256.5 367.2,254.6 368.7,252.8 368.6,251.0 369.1,249.2 369.7,247.5 368.8,245.7 369.7,244.0 370.3,242.3 369.8,240.5 371.0,238.8 371.1,237.1 370.1,235.3 371.0,233.6 370.7,231.8 371.9,230.1 372.8,228.3 372.4,226.6 373.0,224.8 373.0,222.9 373.6,220.9 373.5,218.9 374.5,217.0 376.3,223.8 377.9,226.8 379.2,243.4 380.8,262.9 382.3,280.5 383.0,281.6" fill="none" stroke="#dc9a22" stroke-width="1.7" stroke-linejoin="round"/>
<polyline points="368.9,282.2 372.7,281.4 375.6,279.0 378.0,275.2 379.9,270.4 381.4,264.6 382.3,261.3 383.8,259.3 385.2,257.9 386.7,256.4 387.9,254.0 388.9,255.5 389.6,258.8 391.0,260.8 392.4,261.7 393.9,263.2 395.3,260.8 396.8,256.9 398.2,254.5 399.2,247.3 400.4,239.6 401.4,237.2 402.3,239.6 403.3,249.2 404.5,258.8 405.6,263.7 406.9,266.5 408.1,271.3 409.3,277.1 410.4,280.0 411.7,282.2" fill="none" stroke="#8b1a3c" stroke-width="1.7" stroke-linejoin="round"/>
<polyline points="385.2,282.2 387.2,279.5 389.6,277.1 391.2,279.0 392.9,281.9 394.4,279.0 396.8,277.1 399.2,275.7 401.6,273.3 403.5,269.4 404.9,265.6 406.4,259.8 407.8,256.9 409.3,260.8 410.7,268.5 412.2,274.2 414.1,279.0 415.5,281.9 416.5,282.2" fill="none" stroke="#2b3d6b" stroke-width="1.5" stroke-dasharray="1.1 0.9" stroke-linejoin="round"/>
<polyline points="249.5,374.2 250.9,376.4 252.1,378.5 254.7,375.9 255.7,374.2 257.1,372.4 258.1,370.7 258.3,369.0 259.8,367.2 260.5,365.5 260.7,363.8 261.2,362.1 260.9,360.3 261.7,358.6 261.8,356.9 262.0,355.1 263.3,353.4 263.7,351.6 263.3,349.9 263.0,348.2 264.5,346.4 264.6,344.7 264.6,343.0 264.9,341.3 265.8,339.5 265.9,337.8 266.2,336.1 266.8,334.4 267.1,332.6 266.7,330.9 267.6,329.2 268.3,327.5 269.0,325.7 269.3,324.0 269.2,322.2 269.4,320.5 269.0,318.7 269.2,316.8 270.2,315.0 271.6,322.2 272.8,324.8 274.2,337.8 275.4,355.1 276.6,370.7 278.0,379.3 279.0,380.5" fill="none" stroke="#dc9a22" stroke-width="1.7" stroke-linejoin="round"/>
<polyline points="271.5,380.6 272.7,379.7 276.1,377.7 279.5,372.3 282.2,366.9 284.2,359.5 285.5,352.7 287.3,343.2 288.9,335.1 290.3,327.0 291.4,323.0 292.7,312.2 297.0,312.2 297.7,317.6 298.4,327.0 299.7,336.5 301.1,346.0 302.4,355.4 303.5,358.1 304.9,367.6 306.5,375.7 308.1,380.6" fill="none" stroke="#8b1a3c" stroke-width="1.7" stroke-linejoin="round"/>
<polyline points="278.5,380.4 279.5,379.7 283.5,377.0 287.6,370.3 290.3,362.2 292.3,352.7 294.1,346.0 295.4,337.8 296.4,327.0 297.4,317.6 298.6,306.1 300.0,310.8 301.1,320.3 302.4,332.4 303.8,344.6 305.1,356.8 306.8,367.6 308.5,375.7 310.5,380.4" fill="none" stroke="#5aa03c" stroke-width="1.5" stroke-dasharray="1.1 0.9" stroke-linejoin="round"/>
<polyline points="355.3,375.0 356.4,376.8 357.6,378.5 360.5,375.9 361.8,374.2 363.4,372.4 364.0,370.7 364.6,369.0 365.3,367.2 366.1,365.5 366.6,363.8 366.5,362.1 367.3,360.3 367.8,358.6 368.3,356.9 367.7,355.1 368.3,353.4 368.3,351.6 369.2,349.9 369.9,348.2 370.0,346.4 369.4,344.7 371.0,343.0 371.2,341.3 371.1,339.6 371.3,337.8 371.4,336.1 371.4,334.2 371.6,332.2 372.8,330.2 373.2,328.3 372.8,326.7 373.3,325.1 373.6,323.4 373.5,321.8 374.4,320.2 374.6,318.6 375.4,316.9 375.2,315.3 377.0,322.2 378.2,325.7 379.6,339.5 380.8,355.1 382.2,370.7 383.5,379.3 384.2,380.5" fill="none" stroke="#dc9a22" stroke-width="1.7" stroke-linejoin="round"/>
<polyline points="370.5,381.0 372.7,380.7 375.6,379.0 378.0,375.1 379.9,370.3 381.4,365.5 382.5,360.7 384.3,358.8 385.7,356.8 387.2,356.4 388.9,352.8 389.8,354.9 390.8,358.8 392.4,360.2 394.7,362.1 396.3,358.8 397.7,355.9 399.2,353.5 400.1,345.3 401.1,337.6 402.1,336.2 403.0,338.6 404.0,350.1 404.9,359.7 406.2,363.1 407.5,365.0 408.5,370.3 409.8,376.1 411.2,379.4 412.6,380.9" fill="none" stroke="#8b1a3c" stroke-width="1.7" stroke-linejoin="round"/>
<polyline points="394.5,381.0 395.8,379.9 397.7,376.1 399.7,372.2 401.6,369.3 403.0,367.4 404.3,362.6 404.9,354.9 405.9,345.3 406.9,341.5 407.8,343.4 408.8,352.0 409.8,359.7 410.7,366.5 412.0,372.2 413.1,377.0 414.6,380.4 415.5,381.0" fill="none" stroke="#5aa03c" stroke-width="1.5" stroke-dasharray="1.1 0.9" stroke-linejoin="round"/>
<polyline points="249.5,474.7 252.1,476.5 254.4,474.8 255.5,473.0 257.1,470.9 258.1,468.7 259.0,467.0 259.7,465.2 259.3,463.5 260.4,461.7 260.7,460.0 261.6,458.3 262.0,456.5 261.9,454.8 261.7,453.1 262.4,451.4 263.6,449.6 263.3,447.9 263.0,446.2 263.6,444.4 264.8,442.7 264.4,441.0 264.4,439.3 264.8,437.5 265.4,435.8 266.3,434.1 265.8,432.4 266.3,430.6 266.9,428.9 267.1,427.2 267.8,425.6 267.7,423.9 267.4,422.3 268.4,420.7 267.9,419.1 268.3,417.4 268.7,415.8 269.4,414.2 270.7,420.2 272.0,423.7 273.3,435.8 274.6,451.4 275.8,468.7 277.2,477.3 278.2,479.3" fill="none" stroke="#dc9a22" stroke-width="1.7" stroke-linejoin="round"/>
<polyline points="271.5,479.6 272.7,478.7 276.7,476.0 280.0,470.7 282.7,464.0 284.0,458.7 285.3,450.7 286.7,442.7 288.0,436.0 289.3,428.0 290.0,423.3 291.3,420.0 292.0,410.7 295.1,410.7 296.0,414.7 296.7,420.0 297.3,428.0 298.7,437.3 300.0,446.7 301.3,454.7 302.7,458.7 304.0,466.7 305.3,473.3 306.7,478.0 308.0,479.6" fill="none" stroke="#8b1a3c" stroke-width="1.7" stroke-linejoin="round"/>
<polyline points="282.0,479.6 283.3,478.7 287.3,477.3 290.0,472.7 292.0,464.0 293.3,453.3 294.7,444.0 296.0,433.3 297.3,422.7 298.4,413.3 299.3,410.7 301.3,410.7 302.0,417.3 303.1,429.3 304.0,442.7 304.9,453.3 306.0,462.7 307.3,470.7 308.9,476.7 310.7,479.3" fill="none" stroke="#3a2455" stroke-width="1.5" stroke-dasharray="1.1 0.9" stroke-linejoin="round"/>
<polyline points="355.3,475.6 357.6,477.3 358.6,475.6 360.5,473.9 361.9,472.2 363.0,470.4 364.0,468.7 364.5,467.0 364.6,465.2 366.0,463.5 366.5,461.7 366.6,460.0 366.9,458.3 367.3,456.6 367.2,454.8 367.2,453.1 368.0,451.4 368.7,449.6 368.3,447.9 369.2,446.2 369.9,444.5 369.5,442.7 369.8,441.0 369.8,439.3 371.5,437.6 371.4,435.8 371.4,434.1 372.5,432.1 372.8,430.0 373.2,428.0 372.8,426.4 373.5,424.8 373.9,423.1 373.7,421.5 375.1,419.9 374.5,418.2 374.5,416.6 375.2,415.0 377.0,422.0 378.2,425.4 379.6,439.3 380.8,454.8 382.2,470.4 383.5,478.7 384.2,479.4" fill="none" stroke="#dc9a22" stroke-width="1.7" stroke-linejoin="round"/>
<polyline points="371.5,479.8 373.7,479.7 376.6,478.0 379.0,474.6 380.6,470.3 381.9,465.5 382.8,460.7 384.3,458.7 385.7,456.3 387.3,455.4 388.9,452.5 389.8,454.4 391.2,458.7 392.9,460.2 394.7,461.8 396.3,458.7 397.7,455.8 399.2,453.0 400.1,446.2 401.1,437.6 402.1,435.7 403.0,438.5 404.0,451.0 404.9,459.7 406.4,463.1 407.5,465.0 408.8,470.3 410.0,476.0 411.4,478.9 412.6,479.8" fill="none" stroke="#8b1a3c" stroke-width="1.7" stroke-linejoin="round"/>
<polyline points="390.0,479.4 393.4,479.7 396.3,479.4 398.2,475.1 400.1,469.3 401.6,463.5 403.0,455.8 404.0,446.2 404.9,439.5 405.9,433.7 406.6,432.3 407.3,434.7 408.3,443.3 409.3,450.1 410.4,457.8 411.7,464.5 413.1,470.3 414.6,475.1 416.0,478.4 417.0,479.6" fill="none" stroke="#3a2455" stroke-width="1.5" stroke-dasharray="1.1 0.9" stroke-linejoin="round"/>
<rect x="0.65" y="0.65" width="518.7" height="613.7" fill="none" stroke="#000" stroke-width="1.3"/>
</svg>
</body></html>
